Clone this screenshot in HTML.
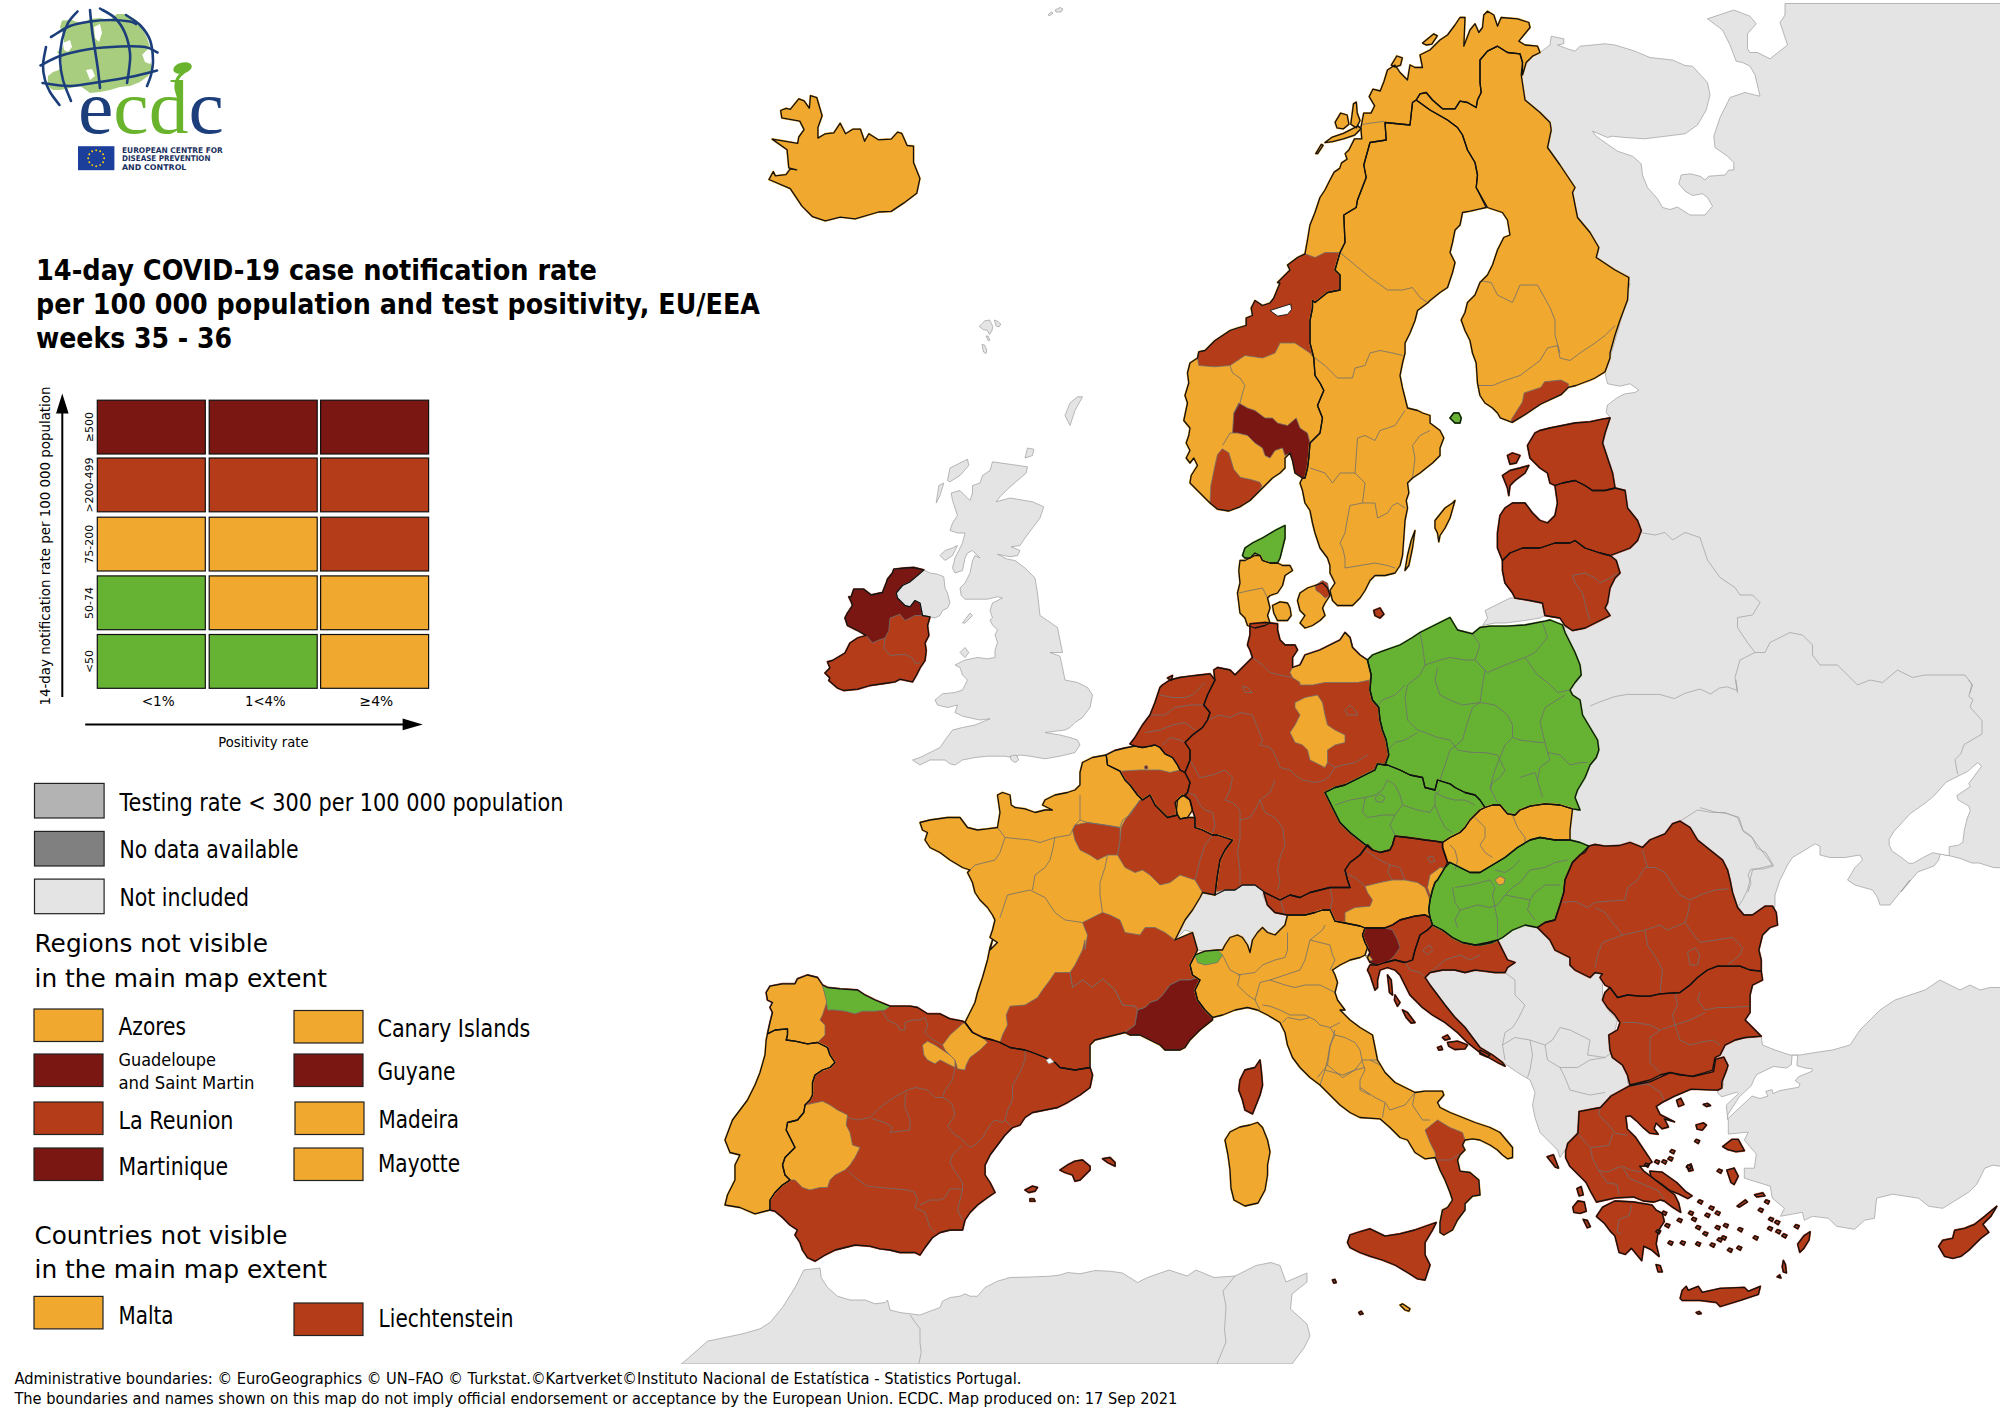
<!DOCTYPE html>
<html><head><meta charset="utf-8"><title>14-day COVID-19 case notification rate</title>
<style>
html,body{margin:0;padding:0;background:#fff;}
svg{display:block;}
.g{fill:#e4e4e4;stroke:#9c9c9c;stroke-width:0.7}
.w{fill:#fff;stroke:#9c9c9c;stroke-width:0.7}
.gl{fill:none;stroke:#9c9c9c;stroke-width:0.7}
.c{stroke-width:2.0;stroke-linejoin:round}
.s{stroke:#6e6e6e;stroke-width:0.8}
.l{fill:none;stroke:#6e6e6e;stroke-width:0.8}
.h{fill:#fff;stroke:#111;stroke-width:0.9}
.o{fill:none;stroke:#111;stroke-width:1.3;stroke-linejoin:round}
</style></head>
<body>
<svg width="2000" height="1412" viewBox="0 0 2000 1412" style="font-family:'DejaVu Sans','Liberation Sans',sans-serif">
<rect width="2000" height="1412" fill="#fff"/>
<g id="map">
<polygon class="g" points="1521.2,75 1526.2,62.5 1532.5,56.2 1540,52.5 1550,45 1551.2,36.2 1563.8,38.8 1563.8,43.8 1557.5,45 1567.5,48.8 1575,51.2 1580,46.2 1605,43.8 1615,45 1635,51.2 1650,57.5 1672.5,60 1685,65.5 1692.5,66.2 1707.5,82.5 1710,95 1706.2,110 1697.5,125 1685,133.8 1645,138.8 1625,137.5 1612.5,136.2 1607.5,137.5 1592.5,131.2 1596.2,136.2 1605,142.5 1617.5,151.2 1632.5,156.2 1641.2,163.8 1642.5,175 1647.5,187.5 1657.5,198.8 1662.5,207.5 1670,209.5 1677.5,207 1690,215 1705,215 1712.5,206.2 1707.5,197.5 1702.5,193.8 1692.5,195.5 1685,191.2 1678.8,183.8 1681.2,175 1690,173.8 1700,176.2 1705,180 1708.8,176.2 1725,175 1728.8,170 1733.8,170 1733.8,162.5 1727.5,156.2 1715,147.5 1713.8,136.2 1720,117.5 1727.5,102.5 1730,97.5 1745,92.5 1760,96.2 1755,75 1750,66.2 1742.5,62.5 1736.2,61.2 1730,45 1722.5,30 1707.5,18.8 1733.8,10 1750,16.2 1756.2,23.8 1747.5,33.8 1747.5,48.8 1750,52.5 1757.5,52.5 1770,58.8 1787.5,45 1780,22.5 1785,15 1785,3.5 2005,3.5 2005,867.7 1994,867.7 1979,863 1971.8,863 1961,858.7 1949,855.6 1940,854 1938.7,860 1934,866 1917.7,872 1901,892 1910,880 1900,892.5 1890,905 1880,905 1877.5,897.5 1872.5,890 1855,885 1847.5,880 1855,867.5 1862.5,860 1860,855 1845,857.5 1830,857.5 1820,855 1820,846.2 1815,843.8 1805,850 1792.5,857.5 1787.5,865 1780,880 1775,895 1775,905 1773.8,912.5 1750,920 1700,900 1560,860 1520,820 1560,780 1570,700 1555,660 1560,630 1590,615 1600,600 1620,530 1600,440 1610,417.5 1606.2,412.5 1607.5,405 1617.5,397.5 1625,393.8 1635,392.5 1638.8,390 1630,383.8 1620,386.2 1607.5,383.8 1605,372.5 1595,377.5 1605,371.8 1610,358 1615,340.5 1620,323 1625,305.5 1627.5,293 1630,283 1610,353 1615,335 1620,320 1627.5,300 1628.8,277.5 1615,270 1596.2,257.5 1598.8,247.5 1590,232.5 1577.5,217.5 1572.5,192.5 1575,187.5 1560,165 1547.5,147.5 1551.2,130 1550,122.5 1540,112.5 1525,100"/>
<polygon class="g" points="1485,610.5 1495,605.5 1505,600.5 1510,598 1515,598 1530,600.5 1542.5,603 1545,615.5 1540,618 1525,620.5 1505,623 1495,623 1482.5,625.5 1487.5,618"/>
<polygon class="g" points="1761.2,1036.2 1762.5,1045 1775,1050 1790,1055 1800,1055 1815,1052.5 1832.5,1050 1850,1045 1860,1030 1870,1020 1880,1010 1895,1000 1910,995 1925,990 1940,980 1950,985 1960,990 1970,985 1980,990 1990,987.5 2000,987.5 2005,987.5 2005,1166.2 2000,1166.2 1992.8,1165.2 1984.8,1168.2 1976.8,1184.2 1968.7,1192.2 1952.7,1202.2 1942.7,1208.3 1928.7,1206.3 1918.6,1198.2 1892.6,1194.2 1876.6,1198.2 1874.5,1218.3 1864.5,1220.3 1854.5,1229.3 1836.5,1226.3 1828.5,1218.3 1812.4,1216.3 1804.4,1220.3 1802.4,1212.3 1780.4,1216.3 1784.4,1208.3 1772.3,1198.2 1770.3,1186.2 1744.3,1178.2 1744.3,1168.2 1754.3,1168.2 1756.3,1154.1 1744.3,1140.1 1748.3,1132.1 1728.3,1134.1 1728.3,1120.1 1727.2,1114.5 1726.4,1104.9 1738.4,1093.7 1736.8,1092.1 1721.6,1096.9 1717.6,1092.9 1717.5,1090 1723.8,1085 1722.5,1077.5 1727.5,1070 1727.5,1062.5 1715,1057.5 1720,1055 1722.5,1050 1725,1045 1735,1040 1745,1037.5"/>
<polygon class="g" points="1425,972.5 1430,972.5 1442.5,970 1455,970 1465,972.5 1475,970 1485,971.2 1495,972.5 1505,972.5 1507.5,967.5 1515,962.5 1507.5,960 1502.5,950 1497.5,940 1502.5,937.5 1512.5,930 1525,925 1540,922.5 1550,930 1560,940 1570,950 1575,960 1580,970 1590,972.5 1600,972.5 1605,977.5 1602.5,985 1602.5,1000 1610,1012.5 1617.5,1020 1615,1030 1610,1037.5 1615,1050 1625,1060 1627.5,1070 1627.5,1082.5 1630,1086.2 1625,1090 1610,1097.5 1600,1107.5 1587.5,1110 1580,1115 1577.5,1130 1575,1140 1565,1150 1560,1157.5 1557.5,1150 1550,1142.5 1540,1132.5 1535,1117.5 1532.5,1105 1535,1092.5 1530,1080 1517.5,1072.5 1505,1063.8 1502.5,1062.5 1492.5,1055 1480,1047.5 1472.5,1037.5 1465,1027.5 1455,1017.5 1445,1005 1437.5,995 1430,985 1425,977.5"/>
<polyline class="gl" points="1505,972.5 1515,980 1515,995 1525,1005 1517.5,1020 1512.5,1027.5 1505,1032.5 1502.5,1045 1505,1060"/>
<polyline class="gl" points="1502.5,1045 1515,1037.5 1530,1040 1545,1045 1552.5,1040 1560,1027.5 1570,1030 1580,1035 1590,1040 1587.5,1055 1605,1057.5 1615,1050"/>
<polyline class="gl" points="1545,1045 1547.5,1060 1560,1067.5 1565,1077.5 1570,1090 1590,1095 1605,1092.5"/>
<polyline class="gl" points="1530,1040 1532.5,1055 1530,1070 1527.5,1077.5"/>
<polyline class="gl" points="1560,1067.5 1577.5,1067.5 1590,1060 1605,1057.5"/>
<polyline class="gl" points="1640,532.5 1655,535 1665,532.5 1672.5,540 1685,532.5 1700,537.5 1707.5,560 1720,577.5 1735,587.5 1740,595 1752.5,595 1760,602.5 1752.5,615 1737.5,617.5 1737.5,627.5 1747.5,642.5 1755,652.5 1740,660 1735,677.5 1737.5,693"/>
<polyline class="gl" points="1755,652.5 1765,652.5 1770,642.5 1790,632.5 1802.5,635 1812.5,645 1812.5,655 1820,665 1837.5,665 1850,677.5 1857.5,685 1870,680 1882.5,682.5 1897.5,670 1912.5,677.5 1925,675 1945,675 1965,675 1972.5,685 1970,693"/>
<polyline class="gl" points="1590,706 1600,701.8 1614.9,696.5 1627.6,694.4 1659.5,694.4 1674.4,698.6 1685,693.3 1700,689 1710.5,694 1719.5,688 1727,686.8 1737.5,690.5 1736,680"/>
<polyline class="gl" points="1968.8,680 1971.8,684.5 1968.8,696.5 1973,699.5 1970,707 1982,720.5 1982,734 1964,744.6 1961,753.6 1955,759.6 1956.8,770 1958,774.6"/>
<polyline class="gl" points="1700,807.6 1715,812 1727,813.6 1739,817.4 1743.5,831.7 1752.5,837.7 1757,848 1766,852.7 1773.6,866 1763,869 1751,869 1748,875 1751,882.7 1748,892"/>
<polyline class="gl" points="1680,821.2 1697.5,810 1712.5,812.5 1725,812.5 1737.5,817.5 1742.5,830 1750,835 1757.5,845 1765,855 1772.5,865 1762.5,867.5 1752.5,870 1750,880 1747.5,890 1742.5,900 1737.5,907.5"/>
<polygon fill="#f0a82f" stroke="#f0a82f" class="c" points="772.2,139.1 797.7,143.4 798.8,137 804.1,129.6 799.8,121.1 781.8,117.9 780.7,110.5 786,108.3 790.3,109.4 798.8,98.8 804.1,100.9 809.4,108.3 810.5,95.6 816.8,97.7 822.1,115.8 817.9,127.5 817.9,138.1 825.3,133.8 833.8,132.8 840.2,123.2 845.5,133.8 852.9,129.2 860.4,129.2 864.6,141.3 868.9,133.8 878.4,139.8 891.2,139.1 897.6,132.1 901.8,133.4 907.1,145.5 913.5,146.1 913.5,162.5 919.9,178.4 916.7,193.3 903.9,202.9 891.2,211.4 878.4,212 855.1,218.8 840.2,217.1 825.3,220.9 812.6,216.7 802,206.1 790.3,188.6 769,179.5 773.3,171.6 775.4,175.9 786,174.6 790.3,168.9 796.7,169.9 788.8,167.8 787.1,149.8"/>
<polygon fill="#f0a82f" stroke="#f0a82f" class="c" points="1277.5,282.5 1290,270 1287.5,265 1297.5,257.5 1305,253.8 1307.5,240 1310,225 1315,212.5 1320,197.5 1325,190 1330,180 1334.2,172.1 1339.7,168.4 1341.6,162.9 1347.1,159.2 1345.2,153.6 1348.9,150 1354.5,138.9 1361.8,138.9 1360.9,127.9 1363.7,113.1 1371,113.1 1374.7,105.8 1369.2,96.6 1372.9,89.2 1380.2,91 1383.9,81.8 1387.5,70 1395,65 1400,72.5 1407.5,80 1410,65 1415,67.5 1422.5,67.5 1420,55 1430,50 1440,40 1447.5,35 1455,25 1460,17.5 1465,17.5 1463.8,46.2 1470,30 1475,23.8 1478.8,32.5 1482.5,27.5 1483.8,15 1487.5,11.2 1493.8,15 1497.5,26.2 1501.2,17.5 1517.5,18.8 1528.8,22.5 1530,27.5 1518.8,41.2 1525,45 1537.5,46.2 1540,52.5 1532.5,56.2 1526.2,62.5 1522.5,75 1522.5,62.5 1520,53.8 1507.5,52.5 1497.5,46.2 1487.5,51.2 1480,60 1480,82.5 1481.2,92.5 1477.5,100 1476.2,107.5 1467.5,102.5 1460,101.2 1455,108.8 1442.5,108.8 1432.5,100 1426.2,92.5 1420,93.8 1416.2,100 1412.5,102.5 1410,125 1385,122.5 1386.2,140 1370,142.5 1363.8,165 1366.2,177.5 1357.5,200 1356.2,207.5 1343.8,215 1345,242.5 1340,252.5 1335,270 1340,275 1340,290 1327.5,292.5 1315,302.5 1312.5,300.5 1312.5,308 1310,320.5 1310,343 1313.8,358 1315,375.5 1320,383 1323.8,390.5 1317.5,405.5 1322.5,418 1320,433 1310,443 1308.8,458 1307.5,468 1305,478 1302.5,478 1295,473 1292.5,460.5 1290,453 1285,458 1285,468 1280,473 1272.5,478 1265,485.5 1257.5,493 1250,500.5 1240,506.8 1228.8,511 1217.5,509.2 1210,503 1202.5,495.5 1195,488 1190,483 1191.2,475.5 1197.5,465.5 1193.8,458 1190,463 1186.2,458 1190,450.5 1186.2,443 1188.8,435.5 1190,428 1183.8,420.5 1187.5,403 1185,395.5 1188.8,383 1187.5,373 1190,363 1197.5,358 1198.8,351.8 1205,350.5 1210,345.5 1215,340.5 1222.5,335.5 1230,330.5 1237.5,328 1246.2,325.5 1246.2,318 1252.5,315.5 1251.2,308 1255,300.5 1262.5,305.5 1270,303 1273.8,298 1280,283"/>
<polygon fill="#b43c19" class="s" points="1305,253.8 1315,257.5 1325,252.5 1341.2,252.5 1335,270 1340,275 1340,290 1327.5,292.5 1315,302.5 1312.5,300.5 1312.5,308 1310,320.5 1310,343 1313.8,358 1310,353 1295,343 1280,343 1275,353 1262.5,358 1245,355.5 1230,365.5 1215,366.8 1198.8,365.5 1197.5,358 1198.8,351.8 1205,350.5 1210,345.5 1215,340.5 1222.5,335.5 1230,330.5 1237.5,328 1246.2,325.5 1246.2,318 1252.5,315.5 1251.2,308 1255,300.5 1262.5,305.5 1270,303 1273.8,298 1280,283 1277.5,282.5 1290,270 1287.5,265 1297.5,257.5"/>
<polygon fill="#7b1712" class="s" points="1232.5,433 1233.8,413 1238.8,403 1247.5,408 1255,410.5 1265,418 1272.5,418 1277.5,423 1287.5,425.5 1296.2,418 1300,428 1307.5,433 1310,443 1308.8,458 1307.5,468 1305,478 1302.5,478 1295,473 1292.5,460.5 1290,453 1285,455.5 1282.5,448 1275,450.5 1270,458 1265,455.5 1262.5,448 1255,443 1247.5,435.5 1237.5,433"/>
<polygon fill="#b43c19" class="s" points="1210,503 1210.9,485.5 1214.2,469.2 1217.5,454.5 1222.3,448.8 1228.9,452.9 1233.7,469.2 1240.3,477.3 1251.7,479.8 1259.8,482.2 1262,486 1257.5,493 1250,500.5 1240,506.8 1228.8,511 1217.5,509.2"/>
<polygon fill="#f0a82f" stroke="#f0a82f" class="c" points="1315.8,153.6 1321.3,144.4 1323.1,145.4 1317.6,153.6"/>
<polygon fill="#f0a82f" stroke="#f0a82f" class="c" points="1325,142.6 1332.4,137.1 1343.4,133.4 1350.8,129.7 1358.1,126 1360.9,128.8 1354.5,135.2 1343.4,138.9 1332.4,141.7"/>
<polygon fill="#f0a82f" stroke="#f0a82f" class="c" points="1335.1,122.3 1340.6,113.1 1347.1,115 1348.9,124.2 1343.4,128.8 1337,127.9"/>
<polygon fill="#f0a82f" stroke="#f0a82f" class="c" points="1350.8,124.2 1353.5,103.9 1356.3,102.1 1357.2,113.1 1360,120.5 1356.3,127.9"/>
<polygon fill="#f0a82f" stroke="#f0a82f" class="c" points="1391.3,65.2 1396.8,56 1402.3,57.9 1400.5,65.2 1395,67.1"/>
<polygon fill="#f0a82f" stroke="#f0a82f" class="c" points="1422.6,43.1 1433.6,33.9 1437.3,35.8 1431.8,44.1 1426.3,45"/>
<polygon fill="#f0a82f" stroke="#f0a82f" class="c" points="1416.2,100 1430,110 1447.5,120 1457.5,127.5 1462.5,135 1467.5,150 1475,162.5 1477.5,175 1476.2,187.5 1486.2,207.5 1480,208.8 1470,211.2 1462.5,212.5 1460,225 1455,230 1452.5,242.5 1450,252.5 1455,262.5 1452.5,272.5 1447.5,287.5 1440,292.5 1430,300.5 1427.5,303 1417.5,310.5 1415,320.5 1410,333 1405,343 1405,353 1402.5,363 1400,375.5 1402.5,388 1407.5,408 1417.5,410.5 1422.5,413 1430,415.5 1430,423 1440,430.5 1443.8,438 1440,448 1440,455.5 1432.5,463 1426.2,468 1420,473 1412.5,478 1407.5,483 1408.8,493 1406.2,500.5 1407.5,508 1405,520.5 1403.8,538 1402.5,555.5 1400,565.5 1395,573 1385,575.5 1375,575.5 1370,580.5 1365,590.5 1360,598 1352.5,605.5 1342.5,605.5 1337.5,605.5 1332.5,600.5 1330,590.5 1335,583 1330,573 1330,565.5 1327.5,558 1320,548 1315,533 1312.5,523 1310,510.5 1305,503 1302.5,490.5 1300,483 1302.5,478 1305,478 1307.5,468 1308.8,458 1310,443 1320,433 1322.5,418 1317.5,405.5 1323.8,390.5 1320,383 1315,375.5 1313.8,358 1310,343 1310,320.5 1312.5,308 1312.5,300.5 1315,302.5 1327.5,292.5 1340,290 1340,275 1335,270 1340,252.5 1345,242.5 1343.8,215 1356.2,207.5 1357.5,200 1366.2,177.5 1363.8,165 1370,142.5 1386.2,140 1385,122.5 1410,125 1412.5,102.5"/>
<polygon fill="#f0a82f" stroke="#f0a82f" class="c" points="1435,520.5 1445,508 1452.5,503 1455,500.5 1450,518 1445,528 1440,535.5 1438.8,541.8 1437.5,533 1435,528"/>
<polygon fill="#f0a82f" stroke="#f0a82f" class="c" points="1405,570.5 1407.5,555.5 1411.2,540.5 1415,530.5 1412.5,548 1408.8,565.5"/>
<polygon fill="#f0a82f" stroke="#f0a82f" class="c" points="1416.2,100 1420,93.8 1426.2,92.5 1432.5,100 1442.5,108.8 1455,108.8 1460,101.2 1467.5,102.5 1476.2,107.5 1477.5,100 1481.2,92.5 1480,82.5 1480,60 1487.5,51.2 1497.5,46.2 1507.5,52.5 1520,53.8 1522.5,62.5 1521.2,75 1525,100 1540,112.5 1550,122.5 1551.2,130 1547.5,147.5 1560,165 1575,187.5 1572.5,192.5 1577.5,217.5 1590,232.5 1598.8,247.5 1596.2,257.5 1615,270 1628.8,277.5 1627.5,300 1620,320 1615,335 1610,353 1610,358 1605,371.8 1595,378 1590.5,380 1575.8,385.5 1568.4,387.4 1561,394.7 1540.8,404 1526,414 1512.2,422.4 1500.3,417.8 1497.5,413 1492.5,408 1485,403 1480,395.5 1477.5,383 1476.2,363 1472.5,353 1470,340.5 1465,330.5 1461.2,320 1465,312.5 1467.5,302.5 1475,295 1480,282.5 1487.5,275 1492.5,265 1497.5,250 1503.8,237.5 1510,235 1507.5,220 1502.5,212.5 1487.5,207.5 1476.2,187.5 1477.5,175 1475,162.5 1467.5,150 1462.5,135 1457.5,127.5 1447.5,120 1430,110"/>
<polygon fill="#b43c19" class="s" points="1511.3,419.6 1522.4,402.1 1524.2,392.9 1540.8,387.4 1544.5,381.8 1561,380 1568.4,383.7 1568.4,387.4 1561,394.7 1540.8,404 1526,414 1512.2,422.4"/>
<polygon fill="#66b233" stroke="#66b233" class="c" points="1450,418 1453.8,413 1458.8,413 1461.2,418 1460,423 1455,423"/>
<polygon fill="#b43c19" stroke="#b43c19" class="c" points="1527.5,445.5 1535,433 1540,430.5 1550,428 1562.5,425.5 1575,423 1590,421.8 1602.5,419.2 1610,418 1605,433 1602.5,443 1607.5,458 1612.5,473 1615,488 1605,490.5 1592.5,490.5 1585,485.5 1575,480.5 1562.5,483 1555,485.5 1550,483 1547.5,473 1540,468 1535,463 1530,458"/>
<polygon fill="#b43c19" stroke="#b43c19" class="c" points="1502.5,475.5 1510,470.5 1520,468 1528.8,465.5 1525,473 1515,480.5 1510,485.5 1508.8,495.5 1507.5,488"/>
<polygon fill="#b43c19" stroke="#b43c19" class="c" points="1507.5,455.5 1512.5,453 1520,455.5 1516.2,463 1510,464.2"/>
<polygon fill="#b43c19" stroke="#b43c19" class="c" points="1555,485.5 1562.5,483 1575,480.5 1585,485.5 1592.5,490.5 1605,490.5 1615,488 1625,490.5 1627.5,508 1637.5,520.5 1641.2,530.5 1637.5,540.5 1630,548 1610,555.5 1600,553 1585,548 1575,540.5 1570,543 1555,543 1540,548 1522.5,548 1510,553 1502.5,560.5 1497.5,548 1497.5,533 1500,515.5 1505,508 1512.5,503 1525,503 1532.5,513 1540,520.5 1547.5,523 1555,515.5 1557.5,503"/>
<polygon fill="#b43c19" stroke="#b43c19" class="c" points="1502.5,560.5 1510,553 1522.5,548 1540,548 1555,543 1570,543 1575,540.5 1585,548 1600,553 1610,555.5 1616.2,560.5 1620,573 1615,578 1610,588 1607.5,603 1605,608 1610,615.5 1595,623 1585,628 1572.5,630.5 1565,625.5 1560,618 1545,615.5 1542.5,603 1530,600.5 1515,598 1512.5,593 1505,583 1502.5,570.5"/>
<polygon fill="#66b233" stroke="#66b233" class="c" points="1242.5,555.5 1245,548 1252.5,543 1262.5,538 1275,530.5 1285,525.5 1285,538 1282.5,548 1280,558 1277.5,563 1270,563 1262.5,560.5 1260,555.5 1255,553 1250,558 1245,558"/>
<polygon fill="#f0a82f" stroke="#f0a82f" class="c" points="1240,560.5 1245,560.5 1250,558 1255,555.5 1260,555.5 1262.5,560.5 1270,563 1277.5,563 1282.5,565.5 1290,565.5 1292.5,570.5 1285,575.5 1282.5,585.5 1277.5,593 1270,595.5 1267.5,598 1270,608 1267.5,615.5 1270,623 1265,625.5 1255,628 1247.5,625.5 1245,618 1240,613 1238.8,603 1237.5,593 1240,583 1238.8,570.5"/>
<polygon fill="#f0a82f" stroke="#f0a82f" class="c" points="1272.5,605.5 1280,601.8 1287.5,603 1290,608 1291.2,615.5 1287.5,620.5 1277.5,620.5 1273.8,613"/>
<polygon fill="#f0a82f" stroke="#f0a82f" class="c" points="1300,593 1307.5,588 1315,585.5 1322.5,583 1327.5,588 1330,595.5 1325,603 1322.5,608 1325,615.5 1320,620.5 1312.5,625.5 1305,628 1300,623 1305,615.5 1300,610.5 1297.5,600.5"/>
<polygon fill="#b43c19" class="s" points="1315,585.5 1322.5,580.5 1327.5,583 1330,595.5 1325,598 1320,593 1316.2,590.5"/>
<polygon fill="#b43c19" stroke="#b43c19" class="c" points="1373.8,610.5 1380,608 1383.8,614.2 1380,618 1375,615.5"/>
<polygon fill="#b43c19" stroke="#b43c19" class="c" points="923.8,570 913.8,567.5 905,568 893.8,569.2 892.5,573 887.5,579.2 886.2,583 882.5,592.5 871.2,595 863.8,589.2 853.8,589.2 851.2,596.8 848.8,596.8 851.2,601.8 852.5,605.5 847.5,613 845,618 847.5,625.5 857.5,630.5 866.2,635.5 857.5,638 850,643 845,653 832.5,660.5 827.5,661.8 830,668 825,673 830,678 828.8,680.5 837.5,688 843.8,690.5 857.5,689.2 870,685.5 887.5,683 895,681.8 900,679.2 912.5,681.8 916.2,675.5 920,668 925,660.5 926.2,650.5 925,643 928.8,635.5 927.5,625.5 930,616.8 922.5,615.5 920,603 915,600.5 910,606.8 905,605.5 897.5,598 896.2,593 902.5,585.5 910,581.8 917.5,575.5"/>
<polygon fill="#7b1712" class="s" points="923.8,570 913.8,567.5 905,568 893.8,569.2 892.5,573 887.5,579.2 886.2,583 882.5,592.5 871.2,595 863.8,589.2 853.8,589.2 851.2,596.8 848.8,596.8 851.2,601.8 852.5,605.5 847.5,613 845,618 847.5,625.5 857.5,630.5 866.2,635.5 872.5,643 877.5,640.5 885,638 888.8,630.5 890,618 900,614.2 905,620.5 910,618 915,615.5 922.5,615.5 920,603 915,600.5 910,606.8 905,605.5 897.5,598 896.2,593 902.5,585.5 910,581.8 917.5,575.5"/>
<polygon class="g" points="923.8,570 930,573 937.5,574.2 943.8,576.8 945,588 947.5,593 950,603 947.5,608 942.5,610.5 940,615.5 935,618 930,616.8 922.5,615.5 920,603 915,600.5 910,606.8 905,605.5 897.5,598 896.2,593 902.5,585.5 910,581.8 917.5,575.5"/>
<polygon class="g" points="992.5,461.8 1027.5,466.8 1026.2,473 1017.5,480.5 1007.5,489.2 1000,496.8 996.2,501.8 1010,498 1032.5,501.8 1043.8,506.8 1040,518 1032.5,528 1025,538 1020,545.5 1011.2,546.8 1020,550.5 1017.5,555.5 1010,556.8 1003.8,555.5 997.5,554.2 1007.5,559.2 1015,560.5 1025,568 1035,578 1037.5,593 1040,615.5 1047.5,620.5 1057.5,627.5 1060,640 1062.5,652.5 1050,652.5 1060,656.2 1062.5,667.5 1065,680 1077.5,682.5 1087.5,687.5 1092.5,695 1090,707.5 1082.5,717.5 1075,722.5 1070,727.5 1065,730 1045,732.5 1060,735 1070,737.5 1077.5,740 1080,745 1075,752.5 1060,756.2 1045,758.8 1030,756.2 1020,755 1012.5,757.5 1005,756.2 987.5,756.2 975,757.5 962.5,760 955,765 950,763.8 945,760 930,760 920,765 912.5,760 920,757.5 930,752.5 940,747.5 945,740 952.5,730 962.5,727.5 975,725 990,718.8 980,720 962.5,716.2 955,712.5 957.5,705 947.5,707.5 937.5,705 935,700 942.5,693.8 955,692.5 962.5,690 967.5,680 962.5,675 960,667.5 955,665 965,660 977.5,657.5 987.5,658.8 995,657.5 995,650 997.5,642.5 995,635 997.5,630 992.5,625 990,620 992.5,618 990,610.5 992.5,603 1002.5,598 997.5,596.8 987.5,599.2 975,599.2 965,599.2 961.2,595.5 960,588 965,583 970,573 972.5,560.5 975,555.5 980,558 975,553 972.5,550.5 967.5,553 965,558 962.5,570.5 955,573 952.5,568 955,558 960,548 962.5,543 965,533 957.5,533 950,530.5 952.5,523 957.5,515.5 955,508 952.5,500.5 951.2,493 960,490.5 965,495.5 970,500.5 972.5,493 972.5,485.5 980,483 982.5,475.5 990,470.5"/>
<polygon class="g" points="947.5,480.5 950,468 967.5,459.2 968.8,465.5 960,475.5 950,481.8"/>
<polygon class="g" points="936.2,503 938.8,485.5 943.8,483 940,495.5"/>
<polygon class="g" points="940,555.5 945,550.5 952.5,548 957.5,545.5 952.5,555.5 945,560.5"/>
<polygon class="g" points="1025,458 1027.5,448 1033.8,449.2 1032.5,455.5"/>
<polygon class="g" points="1065,415.5 1070,403 1077.5,396.8 1082.5,396.8 1075,410.5 1070,425.5"/>
<polygon class="g" points="962.5,623 970,613 972.5,615.5 965,623"/>
<polygon class="g" points="960,652.5 965,647.5 968.8,652.5 965,657.5"/>
<polygon class="g" points="1010,756.2 1016.2,755 1018.8,760 1015,762.5 1011.2,760"/>
<polygon class="g" points="979.2,326.4 984.8,320.8 989.6,320 992.8,326.4 992,330.4 989.6,334.4 987.2,330.4 983.2,329.6"/>
<polygon class="g" points="994.4,320 997,321 1000.8,324 999,327 996,326"/>
<polygon class="g" points="986,336 988,336 990,340 988.5,341"/>
<polygon class="g" points="982,344.4 984.5,345 986.8,350 986,353.6 983.5,352"/>
<polygon class="g" points="1048,15 1051,12 1053,13 1050,15.5"/>
<polygon class="g" points="1055,10 1060,7.5 1063,9 1061,12 1056,12"/>
<polygon fill="#b43c19" stroke="#b43c19" class="c" points="1130,743.8 1135,737.5 1142.5,725 1150,715 1155,702.5 1157.5,695 1160,687.5 1162.5,685 1170,680 1180,677.5 1190,676.2 1200,675 1210,673.8 1215,680 1212.5,685 1207.5,695 1203.8,705 1210,712.5 1207.5,720 1202.5,727.5 1192.5,735 1185,742.5 1190,750 1190,760 1185,772.5 1180,770 1177.5,765 1172.5,757.5 1165,753.8 1160,747.5 1155,745 1150,746.2 1142.5,747.5 1135,746.2"/>
<polygon fill="#b43c19" stroke="#b43c19" class="c" points="1167.5,678 1172.5,675.5 1171.2,680.5"/>
<polygon fill="#b43c19" stroke="#b43c19" class="c" points="1106.2,755 1115,750.5 1125,748 1135,746.2 1142.5,747.5 1150,746.2 1155,745 1160,747.5 1165,753.8 1172.5,757.5 1177.5,765 1180,770 1185,772.5 1190,782.5 1187.5,792.5 1185,795 1180,797.5 1175,802.5 1177.5,815 1167.5,817.5 1155,805 1150,795 1142.5,800 1137.5,795 1130,785 1125,780 1120,771.2 1107.5,765"/>
<polygon fill="#f0a82f" class="s" points="1106.2,755 1115,750.5 1125,748 1135,746.2 1142.5,747.5 1150,746.2 1155,745 1160,747.5 1165,753.8 1172.5,757.5 1177.5,765 1180,770 1170,772.5 1160,770 1150,770 1140,770 1120,771.2 1107.5,765"/>
<polygon fill="#7b1712" class="s" points="1144.5,766.2 1147,765.5 1148,768.5 1145,769.2"/>
<polygon fill="#f0a82f" stroke="#f0a82f" class="c" points="1177.5,800 1182.5,795 1190,800 1192.5,810 1187.5,817.5 1180,818.8 1176.2,812.5"/>
<polygon fill="#b43c19" stroke="#b43c19" class="c" points="1250,623.8 1250,635 1247.5,645 1250,650 1252.5,657.5 1247.5,662.5 1240,670 1235,675 1230,670 1217.5,667.5 1213.8,670 1215,680 1212.5,685 1207.5,695 1203.8,705 1210,712.5 1207.5,720 1202.5,727.5 1192.5,735 1185,742.5 1190,750 1190,760 1185,772.5 1190,782.5 1187.5,792.5 1185,795 1190,800 1192.5,810 1195,817.5 1195,827.5 1202.5,830 1212.5,835 1217.5,835 1232.5,840 1225,850 1220,860 1217.5,875 1216.2,885 1215,895 1225,890 1235,890 1242.5,885 1255,885 1265,892.5 1275,897.5 1280,900 1290,895 1300,897.5 1310,892.5 1320,890 1330,887.5 1340,887.5 1350,887.5 1347.5,880 1345,870 1350,862.5 1360,855 1367.5,845 1372.5,850 1362.5,842.5 1350,832.5 1340,822.5 1335,812.5 1330,802.5 1325,792.5 1335,787.5 1345,785 1355,780 1365,775 1375,770 1377.5,763.8 1385,765 1388.8,755 1386.2,740 1382.5,730 1380,720 1378.8,707.5 1372.5,700 1370,690 1371.2,675 1367.5,660 1367.5,660 1360,655 1352.5,647.5 1350,637.5 1345,632.5 1340,640 1330,645 1320,650 1305,655 1300,665 1292.5,667.5 1292.5,657.5 1297.5,650 1295,645 1285,645 1280,640 1277.5,630 1277.5,623.8 1265,622.5"/>
<polygon fill="#f0a82f" class="s" points="1292.5,667.5 1300,665 1305,655 1320,650 1330,645 1340,640 1345,632.5 1350,637.5 1352.5,647.5 1360,655 1367.5,660 1367.5,660 1371.2,675 1370,680 1357.5,682.5 1345,682.5 1335,682.5 1325,682.5 1312.5,685 1300,685 1300,682.5 1292.5,677.5 1290,672.5"/>
<polygon fill="#f0a82f" class="s" points="1295,702.5 1305,697.5 1317.5,695 1322.5,702.5 1325,715 1327.5,725 1335,730 1345,735 1345,742.5 1335,745 1327.5,750 1327.5,762.5 1325,767.5 1320,765 1310,760 1307.5,750 1302.5,745 1295,742.5 1290,732.5 1295,725 1300,715 1295,707.5"/>
<polygon fill="#66b233" stroke="#66b233" class="c" points="1367.5,660 1372.5,655 1382.5,651.2 1400,645 1412.5,637.5 1420,632.5 1430,627.5 1440,622.5 1450,617.5 1457.5,630 1472.5,633.8 1480,627.5 1490,626.2 1507.5,626.2 1525,625 1545,621.2 1550,620 1562.5,625 1565,632.5 1570,642.5 1575,652.5 1580,665 1581.2,675 1575,682.5 1570,690 1572.5,695 1580,700 1582.5,715 1590,727.5 1597.5,740 1598.8,750 1596.2,757.5 1590,765 1585,777.5 1577.5,790 1575,797.5 1580,810 1572.5,808.8 1560,805 1545,803.8 1530,806.2 1520,810 1515,815 1507.5,813.8 1500,805 1492.5,805 1485,807.5 1480,800 1475,795 1465,792.5 1455,787.5 1450,783.8 1437.5,780 1435,790 1425,787.5 1422.5,777.5 1410,775 1400,770 1387.5,765 1385,765 1388.8,755 1386.2,740 1382.5,730 1380,720 1378.8,707.5 1372.5,700 1370,690 1371.2,675"/>
<polygon fill="#66b233" stroke="#66b233" class="c" points="1325,792.5 1335,787.5 1345,785 1355,780 1365,775 1375,770 1377.5,763.8 1385,765 1387.5,765 1400,770 1410,775 1422.5,777.5 1425,787.5 1435,790 1437.5,780 1450,783.8 1455,787.5 1465,792.5 1475,795 1480,800 1485,807.5 1480,810 1475,815 1470,820 1465,827.5 1460,832.5 1450,837.5 1442.5,842.5 1435,841.2 1425,840 1417.5,838.8 1407.5,837.5 1395,836.2 1392.5,845 1390,850 1380,852.5 1372.5,850 1362.5,842.5 1350,832.5 1340,822.5 1335,812.5 1330,802.5"/>
<polygon fill="#f0a82f" stroke="#f0a82f" class="c" points="1485,807.5 1492.5,805 1500,805 1507.5,813.8 1515,815 1520,810 1530,806.2 1545,803.8 1560,805 1572.5,808.8 1571.2,820 1570,830 1570,840 1555,840 1540,837.5 1530,840 1517.5,847.5 1505,857.5 1492.5,865 1480,872.5 1470,872.5 1460,867.5 1450,862.5 1447.5,862.5 1445,855 1442.5,847.5 1442.5,842.5 1450,837.5 1460,832.5 1465,827.5 1470,820 1475,815 1480,810"/>
<polygon class="g" points="1202.5,892.5 1215,892.5 1225,890 1235,890 1242.5,885 1255,885 1265,892.5 1262.5,895 1267.5,905 1275,912.5 1287.5,915 1285,925 1280,930 1275,935 1267.5,932.5 1262.5,927.5 1257.5,932.5 1252.5,940 1250,952.5 1247.5,945 1242.5,937.5 1237.5,935 1230,937.5 1225,945 1222.5,950 1217.5,950 1205,951.2 1197.5,950 1192.5,932.5 1185,930 1175,940 1180,930 1185,920 1192.5,910 1200,897.5"/>
<polygon fill="#b43c19" stroke="#b43c19" class="c" points="1263.8,892.5 1275,897.5 1280,900 1290,895 1300,897.5 1310,892.5 1320,890 1330,887.5 1340,887.5 1350,887.5 1347.5,880 1345,870 1350,862.5 1360,855 1367.5,845 1372.5,850 1380,852.5 1390,850 1392.5,845 1395,836.2 1407.5,837.5 1417.5,838.8 1425,840 1435,841.2 1442.5,842.5 1442.5,847.5 1445,855 1447.5,862.5 1445,867.5 1437.5,880 1435,882.5 1432.5,890 1430,900 1428.8,910 1430,917.5 1425,915 1415,916.2 1400,920 1392.5,925 1385,928 1375,928 1365,928 1360,926 1345,923 1335,921.2 1330,910 1322.5,910 1315,912.5 1305,915 1295,915 1287.5,915 1275,912.5 1267.5,905"/>
<polygon fill="#f0a82f" class="s" points="1365,886.2 1380,882.5 1392.5,880 1405,880 1417.5,882.5 1425,887.5 1430,900 1428.8,910 1430,917.5 1425,915 1415,916.2 1400,920 1392.5,925 1385,928 1375,928 1365,928 1360,926 1345,923 1345,912.5 1355,907.5 1370,906.2 1372.5,900 1367.5,892.5"/>
<polygon fill="#f0a82f" class="s" points="1430,875 1440,867.5 1442.5,867.5 1445,875 1440,882.5 1437.5,895 1430,895 1427.5,887.5"/>
<polygon fill="#b43c19" stroke="#b43c19" class="c" points="1365,928 1375,928 1385,928 1392.5,925 1400,920 1415,916.2 1425,915 1430,917.5 1432.5,925 1427.5,930 1420,935 1417.5,942.5 1415,950 1412.5,960 1405,962.5 1395,960 1385,962.5 1377.5,965 1370,962.5 1367.5,957.5 1370,952.5 1367.5,947.5 1365,942.5 1362.5,935"/>
<polygon fill="#7b1712" class="s" points="1365,928 1375,928 1385,928 1392.5,930 1397.5,940 1400,947.5 1395,955 1390,960 1385,962.5 1377.5,965 1370,962.5 1367.5,957.5 1370,952.5 1367.5,947.5 1365,942.5 1362.5,935"/>
<polygon fill="#b43c19" stroke="#b43c19" class="c" points="1377.5,965 1385,962.5 1395,960 1405,962.5 1412.5,960 1415,950 1417.5,942.5 1420,935 1427.5,930 1432.5,925 1442.5,930 1452.5,937.5 1462.5,942.5 1475,945 1487.5,942.5 1497.5,940 1502.5,950 1507.5,960 1515,962.5 1507.5,967.5 1505,972.5 1495,972.5 1485,971.2 1475,970 1465,972.5 1455,970 1442.5,970 1430,972.5 1425,977.5 1430,985 1437.5,995 1445,1005 1455,1017.5 1465,1027.5 1472.5,1037.5 1480,1047.5 1492.5,1055 1502.5,1062.5 1505,1066.2 1497.5,1062.5 1480,1052.5 1467.5,1042.5 1457.5,1032.5 1445,1022.5 1432.5,1015 1422.5,1007.5 1415,1000 1410,995 1405,985 1400,975 1395,970 1387.5,967.5 1380,970 1377.5,980 1377.5,987.5 1375,990 1372.5,982.5 1370,975 1367.5,970 1370,965"/>
<polygon fill="#b43c19" stroke="#b43c19" class="c" points="1387.5,975 1391.2,980 1392.5,995 1389.5,992.5"/>
<polygon fill="#b43c19" stroke="#b43c19" class="c" points="1402.5,1010 1407.5,1012.5 1415,1022.5 1411.2,1023 1406.2,1017.5"/>
<polygon fill="#b43c19" stroke="#b43c19" class="c" points="1395,995 1400,1002.5 1397.5,1006.2 1394.5,1000"/>
<polygon fill="#b43c19" stroke="#b43c19" class="c" points="1437.5,1047.5 1441.2,1046.2 1442.5,1049.5 1438.8,1050"/>
<polygon fill="#b43c19" stroke="#b43c19" class="c" points="1447.5,1042.5 1457.5,1041.2 1467.5,1045 1465,1048.8 1455,1049.5 1448.8,1046.2"/>
<polygon fill="#b43c19" stroke="#b43c19" class="c" points="1442.5,1037.5 1447.5,1035 1450,1038.8 1445,1040"/>
<polygon fill="#b43c19" stroke="#b43c19" class="c" points="1480,1050 1490,1055 1487.5,1057 1480,1053.8"/>
<polygon fill="#66b233" stroke="#66b233" class="c" points="1437.5,880 1445,867.5 1450,862.5 1460,867.5 1470,872.5 1480,872.5 1492.5,865 1505,857.5 1517.5,847.5 1530,840 1540,837.5 1555,840 1570,840 1580,842.5 1588.8,846.2 1572.5,862.5 1565,880 1563.8,892.5 1560,905 1555,920 1545,922.5 1537.5,927.5 1525,925 1512.5,930 1502.5,937.5 1492.5,942.5 1480,945 1475,945 1462.5,942.5 1452.5,937.5 1442.5,930 1432.5,925 1430,917.5 1428.8,910 1430,900 1432.5,890 1435,882.5"/>
<polygon fill="#f0a82f" class="s" points="1495,880 1500,876.2 1505,878.8 1503.8,883.8 1498.8,885"/>
<polygon fill="#f0a82f" stroke="#f0a82f" class="c" points="1106.2,755 1107.5,765 1120,771.2 1125,780 1130,785 1137.5,795 1142.5,800 1150,795 1155,805 1167.5,817.5 1177.5,815 1180,818.8 1187.5,817.5 1195,817.5 1195,827.5 1202.5,830 1212.5,835 1217.5,835 1232.5,840 1225,850 1220,860 1217.5,875 1216.2,885 1215,895 1202.5,892.5 1200,897.5 1192.5,910 1185,920 1180,930 1175,940 1192.5,932.5 1197.5,950 1195,955 1190,965 1192.5,975 1200,980 1195,990 1197.5,1000 1205,1010 1212.5,1017.5 1212.5,1020 1200,1030 1190,1040 1185,1047.5 1180,1050 1175,1050 1165,1050 1160,1045 1150,1040 1140,1035 1130,1035 1125,1032.5 1115,1035 1105,1037.5 1095,1040 1090,1045 1090,1055 1090,1067.5 1075,1070 1060,1067.5 1055,1062.5 1045,1057.5 1032.5,1052.5 1025,1050 1010,1047.5 1000,1042.5 992.5,1040 982.5,1037.5 972.5,1032.5 965,1022.5 970,1012.5 975,1002.5 977.5,992.5 982.5,977.5 987.5,960 990,947.5 992.5,940 990,950 997.5,942.5 990,937.5 992.5,930 995,920 992.5,915 987.5,907.5 980,900 975,892.5 972.5,882.5 967.5,872.5 970,870 962.5,867.5 950,860 940,852.5 930,847.5 925,840 927.5,832.5 922.5,830 920,822.5 930,820 947.5,817.5 960,817.5 967.5,827.5 977.5,830 987.5,828.8 997.5,827.5 1000,812.5 997.5,795 1002.5,792.5 1010,795 1011.2,805 1015,807.5 1025,808.8 1035,812.5 1045,810 1052.5,810 1042.5,805 1045,800 1055,795 1067.5,792.5 1075,790 1080,785 1080,772.5 1082.5,762.5 1092.5,757.5"/>
<polygon fill="#b43c19" class="s" points="1125,820 1140,800 1142.5,800 1150,795 1155,805 1167.5,817.5 1177.5,815 1180,818.8 1187.5,817.5 1195,817.5 1195,827.5 1202.5,830 1212.5,835 1217.5,835 1232.5,840 1225,850 1220,860 1217.5,875 1216.2,885 1215,895 1202.5,892.5 1195,880 1180,875 1170,882.5 1160,885 1150,875 1142.5,870 1135,872.5 1125,867.5 1117.5,855 1120,840 1121.2,827.5"/>
<polygon fill="#b43c19" class="s" points="1075,825 1087.5,822.5 1105,825 1120,827.5 1120,840 1117.5,855 1107.5,855 1097.5,860 1090,855 1080,850 1075,840 1072.5,830"/>
<polygon fill="#b43c19" class="s" points="1082.5,922.5 1092.5,917.5 1102.5,912.5 1110,915 1120,920 1125,932.5 1140,935 1145,927.5 1155,927.5 1165,932.5 1175,940 1192.5,932.5 1197.5,950 1195,955 1190,965 1192.5,975 1200,980 1197.5,977.5 1190,980 1180,980 1170,985 1162.5,995 1157.5,1000 1150,1002.5 1145,1007.5 1137.5,1010 1135,1006.2 1122.5,1005 1115,990 1102.5,978.8 1092.5,987.5 1082.5,980 1072.5,987.5 1070,972.5 1075,965 1082.5,950 1085,940 1085,950 1087.5,935"/>
<polygon fill="#b43c19" class="s" points="1000,1042.5 1002.5,1035 1007.5,1025 1006.2,1015 1010,1006.2 1025,1005 1037.5,997.5 1042.5,990 1050,980 1055,972.5 1070,972.5 1072.5,987.5 1082.5,980 1092.5,987.5 1102.5,978.8 1115,990 1122.5,1005 1135,1006.2 1137.5,1010 1135,1025 1125,1032.5 1115,1035 1105,1037.5 1095,1040 1090,1045 1090,1055 1090,1067.5 1075,1070 1060,1067.5 1055,1062.5 1045,1057.5 1032.5,1052.5 1025,1050 1010,1047.5"/>
<polygon fill="#7b1712" class="s" points="1137.5,1010 1145,1007.5 1150,1002.5 1157.5,1000 1162.5,995 1170,985 1180,980 1190,980 1197.5,977.5 1200,980 1195,990 1197.5,1000 1205,1010 1212.5,1017.5 1212.5,1020 1200,1030 1190,1040 1185,1047.5 1180,1050 1175,1050 1165,1050 1160,1045 1150,1040 1140,1035 1130,1035 1125,1032.5 1135,1025"/>
<polygon fill="#b43c19" stroke="#b43c19" class="c" points="1240,1080 1245,1070 1255,1067.5 1260,1060 1261.2,1070 1262.5,1085 1260,1095 1255,1107.5 1252.5,1113.8 1245,1110 1242.5,1100 1238.8,1090"/>
<polygon fill="#b43c19" stroke="#b43c19" class="c" points="767.5,1033.8 770,1022.5 772.5,1012.5 770,1007.5 772.5,1002.5 767.5,1000 766.2,992.5 770,986.2 782.5,983.8 795,983.8 797.5,978.8 807.5,975 817.5,977.5 822.5,985 827.5,987.5 840,988.8 857.5,990 865,995 875,1000 890,1006.2 910,1006.2 917.5,1007.5 927.5,1013.8 940,1013.8 950,1018.8 962.5,1021.2 965,1022.5 972.5,1032.5 982.5,1037.5 992.5,1040 1000,1042.5 1010,1047.5 1025,1050 1032.5,1052.5 1045,1057.5 1055,1062.5 1060,1067.5 1075,1070 1090,1067.5 1092.5,1075 1090,1087.5 1080,1095 1067.5,1102.5 1057.5,1107.5 1045,1110 1032.5,1112.5 1025,1117.5 1020,1125 1012.5,1127.5 1005,1135 997.5,1145 990,1155 985,1165 985,1175 990,1182.5 995,1192.5 987.5,1197.5 977.5,1205 970,1212.5 965,1220 962.5,1230 950,1230 940,1232.5 932.5,1237.5 925,1247.5 920,1255 915,1252.5 905,1252.5 900,1252.5 890,1250 880,1248.8 870,1246.2 855,1245 845,1247.5 835,1250 825,1255 815,1261.2 807.5,1257.5 802.5,1250 800,1242.5 795,1235 797.5,1230 790,1225 782.5,1217.5 775,1211.2 770,1210 770,1200 775,1192.5 782.5,1185 790,1180 785,1175 782.5,1165 785,1157.5 795,1147.5 790,1137.5 786.2,1130 787.5,1122.5 797.5,1120 803.8,1112.5 805,1105 810,1100 812.5,1095 812.5,1082.5 815,1075 822.5,1070 830,1067.5 835,1062.5 830,1055 827.5,1047.5 822.5,1045 817.5,1042.5 807.5,1043.8 795,1041.2 786.2,1040 787.5,1035 787.5,1028.8 775,1030"/>
<polygon fill="#f0a82f" class="s" points="767.5,1033.8 770,1022.5 772.5,1012.5 770,1007.5 772.5,1002.5 767.5,1000 766.2,992.5 770,986.2 782.5,983.8 795,983.8 797.5,978.8 807.5,975 817.5,977.5 822.5,985 825,992.5 827.5,1000 825,1007.5 822.5,1015 820,1020 825,1025 825,1035 817.5,1042.5 807.5,1043.8 795,1041.2 786.2,1040 787.5,1035 787.5,1028.8 775,1030"/>
<polygon fill="#66b233" class="s" points="822.5,985.5 827.5,987.5 840,988.8 857.5,990 865,995 875,1000 890,1006.2 885,1010 875,1011.2 862.5,1011.2 855,1013.8 845,1011.2 835,1010 827.5,1010 826.2,1000"/>
<polygon fill="#f0a82f" class="s" points="922.5,1045 927.5,1041.2 935,1045 942.5,1050 950,1055 955,1060 955,1067.5 947.5,1063.8 940,1060 935,1063.8 927.5,1060 923.8,1055"/>
<polygon fill="#f0a82f" class="s" points="942.5,1045 950,1035 962.5,1023.8 965,1022.5 972.5,1032.5 982.5,1037.5 987.5,1042.5 980,1050 970,1057.5 966.2,1065 965,1070 957.5,1068.8 955,1060 950,1055 945,1050"/>
<polygon fill="#f0a82f" class="s" points="787.5,1122.5 797.5,1120 803.8,1112.5 805,1105 822.5,1101.2 830,1105 837.5,1110 847.5,1115 846.2,1125 850,1132.5 852.5,1145 860,1147.5 855,1157.5 850,1165 845,1170 835,1175 830,1180 827.5,1187.5 820,1187.5 810,1190 802.5,1187.5 795,1180 790,1180 785,1175 782.5,1165 785,1157.5 795,1147.5 790,1137.5 786.2,1130"/>
<polygon fill="#b43c19" stroke="#b43c19" class="c" points="1060,1170 1067.5,1165 1075,1161.2 1082.5,1160 1090,1166.2 1090,1170 1085,1175 1080,1180 1075,1181.2 1072.5,1175 1065,1172.5"/>
<polygon fill="#b43c19" stroke="#b43c19" class="c" points="1102.5,1158.8 1110,1157.5 1115,1162.5 1115,1166.2 1107.5,1162.5"/>
<polygon fill="#b43c19" stroke="#b43c19" class="c" points="1025,1190 1032.5,1186.2 1037.5,1187.5 1035,1191.2 1028.8,1192.5"/>
<polygon fill="#b43c19" stroke="#b43c19" class="c" points="1030,1198.8 1033.8,1198.8 1035,1201.2 1030,1201.2"/>
<polygon fill="#f0a82f" stroke="#f0a82f" class="c" points="767.5,1033.8 775,1030 787.5,1028.8 787.5,1035 786.2,1040 795,1041.2 807.5,1043.8 817.5,1042.5 822.5,1045 827.5,1047.5 830,1055 835,1062.5 830,1067.5 822.5,1070 815,1075 812.5,1082.5 812.5,1095 810,1100 805,1105 803.8,1112.5 797.5,1120 787.5,1122.5 786.2,1130 790,1137.5 795,1147.5 785,1157.5 782.5,1165 785,1175 790,1180 782.5,1185 775,1192.5 770,1200 770,1210 755,1213.8 740,1207.5 725,1205 727.5,1195 735,1180 735,1165 740,1155 730,1152.5 725,1140 732.5,1120 740,1110 747.5,1100 755,1085 760,1072.5 765,1055 766.2,1040"/>
<polygon class="g" points="681.2,1364 687.5,1358.8 707.5,1341.2 725,1337.5 742.5,1333.8 760,1328.8 770,1322.5 782.5,1307.5 795,1287.5 803.8,1270 820,1268 821.2,1277.5 827.5,1287.5 837.5,1296.2 850,1300 860,1300 865,1300 875,1303.8 885,1302.5 887.5,1300 890,1310 900,1312.5 910,1313.8 920,1315 930,1311.2 940,1307.5 942.5,1301.2 950,1297.5 960,1296.2 965,1293.8 970,1296.2 977.5,1296.2 985,1287.5 997.5,1281.2 1010,1277.5 1030,1277 1050,1276.2 1060,1275 1067.5,1272.5 1080,1273.8 1095,1270.5 1110,1271.2 1122.5,1273 1137.5,1282.5 1147.5,1277.5 1169,1270 1187,1276 1196,1270 1214,1277.5 1235,1276 1256,1265.5 1271,1262.5 1280,1265.5 1286,1282 1307,1273 1307,1282 1292,1294 1290.5,1309 1307,1324 1310,1336 1304,1348 1292,1364"/>
<polyline class="gl" points="1235,1276 1223,1291 1226,1306 1224.5,1330 1226,1342 1217,1364"/>
<polyline class="gl" points="910,1315 920,1328.8 920,1342.5 921.2,1352.5 918.8,1364"/>
<polygon fill="#f0a82f" stroke="#f0a82f" class="c" points="1212.5,1017.5 1222.5,1015 1235,1010 1247.5,1007.5 1257.5,1010 1267.5,1015 1280,1022.5 1285,1032.5 1287.5,1045 1292.5,1057.5 1300,1067.5 1310,1077.5 1320,1085 1330,1095 1340,1105 1350,1112.5 1360,1117.5 1360,1117.5 1380,1118.8 1390,1127.5 1400,1137.5 1407.5,1140 1415,1152.5 1425,1158.8 1435,1157.5 1436.2,1160 1440,1170 1445,1180 1450,1192.5 1452.5,1200 1447.5,1207.5 1442.5,1210 1440,1222.5 1440,1232.5 1443.8,1235 1452.5,1230 1457.5,1220 1465,1210 1465,1203.8 1472.5,1196.2 1480,1195 1478.8,1180 1470,1172.5 1460,1171.2 1457.5,1160 1460,1155 1465,1150 1462.5,1145 1465,1140 1472.5,1138.8 1480,1140 1490,1145 1497.5,1150 1502.5,1155 1507.5,1158.8 1512.5,1157.5 1512.5,1147.5 1500,1132.5 1490,1127.5 1475,1122.5 1462.5,1117.5 1450,1112.5 1440,1107.5 1437.5,1102.5 1443.8,1095 1442.5,1091.2 1425,1091.2 1415,1092.5 1405,1087.5 1395,1082.5 1385,1072.5 1377.5,1060 1375,1047.5 1372.5,1035 1360,1027.5 1350,1020 1340,1010 1345,1010 1337.5,1000 1335,992.5 1337.5,982.5 1335,975 1332.5,970 1340,965 1350,960 1360,957.5 1365,955 1367.5,947.5 1365,942.5 1362.5,935 1365,928 1360,926 1345,923 1335,921.2 1330,910 1322.5,910 1315,912.5 1305,915 1295,915 1287.5,915 1285,925 1280,930 1275,935 1267.5,932.5 1262.5,927.5 1257.5,932.5 1252.5,940 1250,952.5 1247.5,945 1242.5,937.5 1237.5,935 1230,937.5 1225,945 1222.5,950 1217.5,950 1205,951.2 1195,955 1190,965 1192.5,975 1200,980 1195,990 1197.5,1000 1205,1010"/>
<polygon fill="#66b233" class="s" points="1195,955 1205,951.2 1217.5,950 1222.5,955 1217.5,962.5 1205,965 1197.5,962.5"/>
<polygon fill="#b43c19" class="s" points="1425,1130 1437.5,1120 1450,1127.5 1462.5,1132.5 1465,1140 1462.5,1145 1465,1150 1460,1155 1457.5,1160 1460,1171.2 1470,1172.5 1478.8,1180 1480,1195 1472.5,1196.2 1465,1203.8 1465,1210 1457.5,1220 1452.5,1230 1443.8,1235 1440,1232.5 1440,1222.5 1442.5,1210 1447.5,1207.5 1452.5,1200 1450,1192.5 1445,1180 1440,1170 1436.2,1160 1435,1152.5 1430,1142.5"/>
<polygon fill="#f0a82f" class="s" points="1365,955 1370,956.2 1372.5,960 1368.8,961.2"/>
<polygon fill="#b43c19" stroke="#b43c19" class="c" points="1347.5,1242.5 1350,1235 1357.5,1232.5 1370,1228.8 1385,1236.2 1400,1233.8 1415,1230 1436.2,1222.5 1432.5,1230 1425,1242.5 1425,1255 1430,1265 1427.5,1272.5 1425,1280 1417.5,1278.8 1407.5,1272.5 1395,1265 1382.5,1260 1370,1256.2 1360,1252.5 1350,1247.5"/>
<polygon fill="#f0a82f" stroke="#f0a82f" class="c" points="1225,1140 1230,1132 1240,1127 1250,1125 1257.5,1122.5 1262.5,1127.5 1267.5,1140 1270,1152 1267.5,1165 1267.5,1175 1265,1190 1258,1203 1245,1206 1234,1200 1231,1188 1230,1170 1228,1155"/>
<polygon fill="#f0a82f" stroke="#f0a82f" class="c" points="1400,1305 1402.5,1303.8 1410,1308.8 1408.8,1311.2 1405,1310"/>
<polygon fill="#b43c19" stroke="#b43c19" class="c" points="1358.8,1312.5 1361.2,1311.2 1363,1313.8 1360,1314.5"/>
<polygon fill="#b43c19" stroke="#b43c19" class="c" points="1332.5,1280 1335,1279.5 1336.2,1282.5 1333.8,1283"/>
<polygon fill="#b43c19" stroke="#b43c19" class="c" points="1588.8,846.2 1595,844.5 1605,846.2 1620,845.5 1630,842.5 1642.5,847.5 1650,840 1665,833.8 1672.5,823.8 1680,821.2 1690,827.5 1697.5,840 1710,850 1722.5,860 1727.5,870 1730,880 1732.5,892.5 1737.5,907.5 1743.8,915 1752.5,915 1765,906.2 1772.5,906.2 1776.2,912.5 1777.5,925 1770,927.5 1762.5,935 1758.8,950 1761.2,960 1761.2,971.2 1750,970 1740,966.2 1730,966.2 1717.5,966.2 1707.5,970 1697.5,977.5 1690,985 1680,992.5 1660,993.8 1650,996.2 1640,996.2 1627.5,995 1617.5,997.5 1613.8,992.5 1610,987.5 1605,985 1600,977.5 1602.5,973.8 1595,972.5 1590,977.5 1575,970 1570,965 1570,957.5 1555,950 1550,940 1540,930 1537.5,927.5 1545,922.5 1555,920 1560,905 1563.8,892.5 1565,880 1572.5,862.5 1580,855 1585,852.5"/>
<polygon fill="#b43c19" stroke="#b43c19" class="c" points="1613.8,992.5 1617.5,997.5 1627.5,995 1640,996.2 1650,996.2 1660,993.8 1680,992.5 1690,985 1697.5,977.5 1707.5,970 1717.5,966.2 1730,966.2 1740,966.2 1750,970 1761.2,971.2 1762.5,980 1752.5,985 1750,995 1750,1005 1750,1012.5 1745,1020 1752.5,1027.5 1761.2,1036.2 1745,1037.5 1735,1040 1725,1045 1722.5,1050 1720,1055 1715,1057.5 1712.5,1070 1705,1072.5 1692.5,1076.2 1680,1075 1670,1072.5 1660,1075 1650,1080 1640,1082.5 1630,1085 1627.5,1075 1622.5,1065 1612.5,1057.5 1610,1050 1608.8,1035 1617.5,1030 1620,1022.5 1615,1015 1607.5,1007.5 1602.5,1000 1605,992.5 1610,987.5"/>
<polygon fill="#b43c19" stroke="#b43c19" class="c" points="1565.7,1151.7 1567.8,1143.5 1578,1133.2 1579.1,1111.6 1600.6,1107.5 1610.9,1096.2 1629.4,1086 1649.9,1081.9 1670.4,1072.6 1693,1076.7 1713.6,1071.6 1715.6,1059.3 1723.8,1057.2 1727.9,1065.4 1725.9,1071.6 1721.8,1081.9 1721.8,1088 1717.7,1090.1 1691,1089.1 1674.5,1096.2 1662.2,1102.4 1656.1,1106.5 1660.2,1114.7 1674.5,1121.9 1664.3,1118.8 1668.4,1127 1662.2,1128.7 1656.1,1122.9 1654,1128.7 1658.1,1134.2 1649.9,1133.2 1643.7,1128.1 1636.6,1120.9 1630.4,1115.7 1625.7,1116.4 1627.3,1129.1 1635.5,1137.3 1643.7,1149.6 1652,1162 1645.8,1166.1 1639.6,1166.1 1643.7,1171.2 1647.8,1174.3 1656.1,1180.4 1666.3,1188.6 1674.5,1194.8 1678.6,1203 1680.7,1212.3 1672.5,1207.1 1664.3,1201 1660.2,1199.9 1654,1202 1643.7,1201 1633.5,1196.9 1615,1197.9 1596.5,1202 1590.3,1190.7 1586.2,1182.5 1582.1,1178.4 1578,1174.3 1569.8,1166.1 1565.7,1157.8"/>
<polygon fill="#b43c19" stroke="#b43c19" class="c" points="1596.5,1216.4 1602.7,1207.1 1615,1201 1633.5,1202 1652,1205.1 1656.1,1210.2 1662.2,1213.3 1664.3,1221.5 1660.2,1227.7 1658.1,1231.8 1656.1,1244.1 1659.1,1256.4 1652,1250.2 1643.7,1246.1 1641.7,1260.5 1631.4,1248.2 1625.3,1254.4 1619.1,1252.3 1615,1235.9 1610.9,1231.8 1604.7,1223.6"/>
<polygon fill="#b43c19" stroke="#b43c19" class="c" points="1649.9,1171.2 1662.2,1172.2 1676.6,1182.5 1685.8,1191.7 1692,1195.8 1687.9,1198.5 1678.6,1193.8 1670.4,1190.7 1662.2,1184.5 1656.1,1180.4 1650.9,1176.3"/>
<polygon fill="#b43c19" stroke="#b43c19" class="c" points="1572.9,1207.1 1578,1201 1584.2,1202 1586.2,1211.2 1580.1,1213.3 1573.9,1212.3"/>
<polygon fill="#b43c19" stroke="#b43c19" class="c" points="1583.2,1219.4 1587.3,1220.5 1590.3,1226.6 1587.3,1227.7"/>
<polygon fill="#b43c19" stroke="#b43c19" class="c" points="1547.2,1156.8 1553.4,1154.8 1558.5,1168.1 1555.4,1167.1"/>
<polygon fill="#b43c19" stroke="#b43c19" class="c" points="1577,1188.6 1581.1,1186.6 1583.2,1194.8 1579.1,1195.8"/>
<polygon fill="#b43c19" stroke="#b43c19" class="c" points="1676.6,1100.3 1680.7,1098.3 1683.8,1104.5 1678.6,1106.5"/>
<polygon fill="#b43c19" stroke="#b43c19" class="c" points="1703.3,1104.5 1707.4,1103.4 1710.5,1105.5 1706.4,1106.5"/>
<polygon fill="#b43c19" stroke="#b43c19" class="c" points="1696.1,1125 1703.3,1122.9 1706.4,1125 1702.3,1130.1 1697.1,1129.1"/>
<polygon fill="#b43c19" stroke="#b43c19" class="c" points="1722.8,1146.6 1732,1139.4 1738.2,1139.4 1744.4,1150.7 1736.1,1151.7 1727.9,1149.6"/>
<polygon fill="#b43c19" stroke="#b43c19" class="c" points="1726.9,1170.2 1734.1,1168.1 1738.2,1176.3 1734.1,1184.5 1731,1182.5"/>
<polygon fill="#b43c19" stroke="#b43c19" class="c" points="1754.6,1194.8 1762.8,1192.8 1764.9,1195.8 1756.7,1196.9"/>
<polygon fill="#b43c19" stroke="#b43c19" class="c" points="1737.2,1206.1 1745.4,1199.9 1747.4,1202 1739.2,1207.1"/>
<polygon fill="#b43c19" stroke="#b43c19" class="c" points="1797.7,1244.1 1803.9,1235.9 1810.1,1231.8 1809,1240 1803.9,1248.2 1799.8,1252.3"/>
<polygon fill="#b43c19" stroke="#b43c19" class="c" points="1686.9,1166.1 1691,1164 1693,1170.2 1688.9,1171.2"/>
<polygon fill="#b43c19" stroke="#b43c19" class="c" points="1656.1,1264.6 1660.2,1265.6 1662.2,1271.8 1658.1,1271.8"/>
<polygon fill="#b43c19" stroke="#b43c19" class="c" points="1783.4,1260.5 1785.4,1264.6 1786.4,1272.8 1783.4,1271.8 1782.3,1266.7"/>
<polygon fill="#b43c19" stroke="#b43c19" class="c" points="1777.2,1276.9 1779.7,1274.9 1780.9,1278"/>
<polygon fill="#b43c19" stroke="#b43c19" class="c" points="1670,1151.7 1671.7,1149.6 1674.9,1150.9 1673.5,1153.7"/>
<polygon fill="#b43c19" stroke="#b43c19" class="c" points="1668,1158.9 1669.6,1156.8 1672.9,1158 1671.5,1160.9"/>
<polygon fill="#b43c19" stroke="#b43c19" class="c" points="1661.8,1162 1663.4,1159.9 1666.7,1161.1 1665.3,1164"/>
<polygon fill="#b43c19" stroke="#b43c19" class="c" points="1654.6,1162 1656.3,1159.9 1659.5,1161.1 1658.1,1164"/>
<polygon fill="#b43c19" stroke="#b43c19" class="c" points="1644.4,1165 1646,1163 1649.3,1164.2 1647.8,1167.1"/>
<polygon fill="#b43c19" stroke="#b43c19" class="c" points="1686.4,1167.1 1688.1,1165 1691.4,1166.3 1689.9,1169.1"/>
<polygon fill="#b43c19" stroke="#b43c19" class="c" points="1717.2,1171.2 1718.9,1169.1 1722.2,1170.4 1720.7,1173.2"/>
<polygon fill="#b43c19" stroke="#b43c19" class="c" points="1697.7,1202 1699.4,1199.9 1702.7,1201.2 1701.2,1204"/>
<polygon fill="#b43c19" stroke="#b43c19" class="c" points="1709,1208.2 1710.7,1206.1 1714,1207.3 1712.5,1210.2"/>
<polygon fill="#b43c19" stroke="#b43c19" class="c" points="1715.2,1213.3 1716.8,1211.2 1720.1,1212.5 1718.7,1215.3"/>
<polygon fill="#b43c19" stroke="#b43c19" class="c" points="1688.5,1213.3 1690.1,1211.2 1693.4,1212.5 1692,1215.3"/>
<polygon fill="#b43c19" stroke="#b43c19" class="c" points="1704.9,1215.3 1706.6,1213.3 1709.9,1214.5 1708.4,1217.4"/>
<polygon fill="#b43c19" stroke="#b43c19" class="c" points="1677.2,1220.5 1678.9,1218.4 1682.1,1219.7 1680.7,1222.5"/>
<polygon fill="#b43c19" stroke="#b43c19" class="c" points="1691.6,1219.4 1693.2,1217.4 1696.5,1218.6 1695.1,1221.5"/>
<polygon fill="#b43c19" stroke="#b43c19" class="c" points="1695.7,1227.7 1697.3,1225.6 1700.6,1226.8 1699.2,1229.7"/>
<polygon fill="#b43c19" stroke="#b43c19" class="c" points="1702.9,1233.8 1704.5,1231.8 1707.8,1233 1706.4,1235.9"/>
<polygon fill="#b43c19" stroke="#b43c19" class="c" points="1715.2,1227.7 1716.8,1225.6 1720.1,1226.8 1718.7,1229.7"/>
<polygon fill="#b43c19" stroke="#b43c19" class="c" points="1723.4,1225.6 1725.1,1223.6 1728.3,1224.8 1726.9,1227.7"/>
<polygon fill="#b43c19" stroke="#b43c19" class="c" points="1737.8,1229.7 1739.4,1227.7 1742.7,1228.9 1741.3,1231.8"/>
<polygon fill="#b43c19" stroke="#b43c19" class="c" points="1717.2,1240 1718.9,1237.9 1722.2,1239.2 1720.7,1242"/>
<polygon fill="#b43c19" stroke="#b43c19" class="c" points="1721.4,1237.9 1723,1235.9 1726.3,1237.1 1724.8,1240"/>
<polygon fill="#b43c19" stroke="#b43c19" class="c" points="1668,1243.1 1669.6,1241 1672.9,1242.2 1671.5,1245.1"/>
<polygon fill="#b43c19" stroke="#b43c19" class="c" points="1680.3,1243.1 1681.9,1241 1685.2,1242.2 1683.8,1245.1"/>
<polygon fill="#b43c19" stroke="#b43c19" class="c" points="1695.7,1244.1 1697.3,1242 1700.6,1243.3 1699.2,1246.1"/>
<polygon fill="#b43c19" stroke="#b43c19" class="c" points="1710.1,1245.1 1711.7,1243.1 1715,1244.3 1713.6,1247.2"/>
<polygon fill="#b43c19" stroke="#b43c19" class="c" points="1727.5,1250.2 1729.2,1248.2 1732.4,1249.4 1731,1252.3"/>
<polygon fill="#b43c19" stroke="#b43c19" class="c" points="1736.8,1248.2 1738.4,1246.1 1741.7,1247.4 1740.2,1250.2"/>
<polygon fill="#b43c19" stroke="#b43c19" class="c" points="1753.2,1237.9 1754.8,1235.9 1758.1,1237.1 1756.7,1240"/>
<polygon fill="#b43c19" stroke="#b43c19" class="c" points="1768.6,1219.4 1770.2,1217.4 1773.5,1218.6 1772.1,1221.5"/>
<polygon fill="#b43c19" stroke="#b43c19" class="c" points="1774.7,1222.5 1776.4,1220.5 1779.7,1221.7 1778.2,1224.6"/>
<polygon fill="#b43c19" stroke="#b43c19" class="c" points="1767.6,1228.7 1769.2,1226.6 1772.5,1227.9 1771,1230.7"/>
<polygon fill="#b43c19" stroke="#b43c19" class="c" points="1775.8,1231.8 1777.4,1229.7 1780.7,1230.9 1779.3,1233.8"/>
<polygon fill="#b43c19" stroke="#b43c19" class="c" points="1781.9,1235.9 1783.6,1233.8 1786.9,1235.1 1785.4,1237.9"/>
<polygon fill="#b43c19" stroke="#b43c19" class="c" points="1794.3,1226.6 1795.9,1224.6 1799.2,1225.8 1797.7,1228.7"/>
<polygon fill="#b43c19" stroke="#b43c19" class="c" points="1758.3,1210.2 1760,1208.2 1763.2,1209.4 1761.8,1212.3"/>
<polygon fill="#b43c19" stroke="#b43c19" class="c" points="1764.5,1202 1766.1,1199.9 1769.4,1201.2 1768,1204"/>
<polygon fill="#b43c19" stroke="#b43c19" class="c" points="1694.7,1141.4 1696.3,1139.4 1699.6,1140.6 1698.2,1143.5"/>
<polygon fill="#b43c19" stroke="#b43c19" class="c" points="1661.8,1213.3 1663.4,1211.2 1666.7,1212.5 1665.3,1215.3"/>
<polygon fill="#b43c19" stroke="#b43c19" class="c" points="1664.9,1225.6 1666.5,1223.6 1669.8,1224.8 1668.4,1227.7"/>
<polygon fill="#b43c19" stroke="#b43c19" class="c" points="1655.6,1231.8 1657.3,1229.7 1660.6,1230.9 1659.1,1233.8"/>
<polygon fill="#b43c19" stroke="#b43c19" class="c" points="1680.2,1298.4 1682.2,1290.4 1686.2,1286.4 1688.2,1290.4 1698.2,1286.4 1702.2,1292.4 1720.2,1288.4 1744.3,1287.4 1748.3,1291.4 1760.3,1286.4 1758.3,1294.4 1740.3,1300.4 1720.2,1306.5 1716.2,1302.4 1700.2,1300.4 1682.2,1300.4"/>
<polygon fill="#b43c19" stroke="#b43c19" class="c" points="1696.2,1312.5 1699.2,1311.5 1701.2,1313.5 1698.2,1314.1"/>
<polygon fill="#b43c19" stroke="#b43c19" class="c" points="1938.7,1246.3 1942.7,1240.3 1952.7,1238.3 1954.7,1230.3 1964.7,1228.3 1974.7,1224.3 1984.8,1216.3 1996.8,1206.3 1990.8,1216.3 1982.8,1224.3 1988.8,1232.3 1980.8,1238.3 1974.7,1244.3 1968.7,1250.3 1960.7,1256.4 1952.7,1258.4 1944.7,1256.4"/>
<polyline class="l" points="1230,365.5 1232.5,373 1240,378 1245,385.5 1242.5,393 1240,403 1233.8,413"/>
<polyline class="l" points="1222.5,445.5 1230,433 1232.5,433"/>
<polyline class="l" points="1358.1,127.9 1363.7,124.2 1369.2,123.3 1383.9,121.4"/>
<polyline class="l" points="1340,252.5 1355,265 1370,277.5 1387.5,290 1402.5,290 1412.5,287.5 1420,297.5 1427.5,302.5"/>
<polyline class="l" points="1315,358 1325,365.5 1337.5,378 1352.5,378 1355,368 1365,365.5 1370,353 1380,350.5 1392.5,353 1402.5,355.5"/>
<polyline class="l" points="1310,468 1325,473 1332.5,483 1340,473 1355,473 1357.5,438 1365,435.5 1375,440.5 1380,430.5 1387.5,428 1395,425.5 1405,410.5"/>
<polyline class="l" points="1355,473 1365,483 1362.5,503 1375,503 1377.5,518 1387.5,513 1392.5,505.5 1397.5,503 1405,508"/>
<polyline class="l" points="1412.5,478 1415,458 1412.5,445.5 1420,435.5 1430,430.5"/>
<polyline class="l" points="1362.5,503 1350,505.5 1347.5,518 1345,533 1340,543 1342.5,548 1345,558 1345,568 1360,565.5 1375,563 1387.5,565.5 1395,568"/>
<polyline class="l" points="1477.5,385.5 1492.5,385.5 1505,380.5 1520,375.5 1530,368 1540,360.5 1547.5,348 1557.5,345.5 1560,358 1570,360.5 1580,353 1595,343 1605,335.5 1615,325.5"/>
<polyline class="l" points="1482.5,281.2 1491.2,282.5 1497.5,295 1512.5,302.5 1520,285 1537.5,285 1550,307.5 1555,320 1555,335 1560,353"/>
<polyline class="l" points="1572.5,575.5 1575,583 1582.5,593 1585,603 1587.5,613 1590,620.5"/>
<polyline class="l" points="1572.5,575.5 1585,573 1595,578 1600,583 1610,578 1617.5,573"/>
<polyline class="l" points="1238.8,593 1250,590.5 1262.5,588 1267.5,598"/>
<polyline class="l" points="885,638 883.8,648 890,655.5 905,654.2 912.5,658 915,663 920,663"/>
<polyline class="l" points="1160,695 1172.5,697.5 1185,697.5 1192.5,695 1200,687.5 1205,682.5"/>
<polyline class="l" points="1150,715 1165,715 1175,707.5 1190,705 1203.8,705"/>
<polyline class="l" points="1145,732.5 1160,730 1172.5,725 1185,722.5 1195,730"/>
<polyline class="l" points="1162.5,745 1170,737.5 1180,740 1185,742.5"/>
<polyline class="l" points="1252.5,657.5 1262.5,665 1270,672.5 1280,675 1292.5,677.5"/>
<polyline class="l" points="1207.5,720 1220,715 1230,717.5 1240,712.5 1252.5,715 1257.5,727.5 1262.5,740 1260,745 1270,747.5 1275,755 1280,767.5 1290,770 1295,775 1302.5,780 1315,782.5 1325,780 1330,775 1335,767.5 1327.5,762.5"/>
<polyline class="l" points="1190,760 1200,777.5 1212.5,775 1225,770 1232.5,777.5 1230,790 1225,800 1232.5,802.5 1240,810 1240,820 1250,817.5 1255,810 1260,800 1270,792.5 1275,780"/>
<polyline class="l" points="1187.5,792.5 1195,795 1200,805 1205,810 1212.5,812.5 1215,825 1212.5,832.5"/>
<polyline class="l" points="1240,820 1240,837.5 1237.5,852.5 1240,870 1240,885"/>
<polyline class="l" points="1260,800 1265,812.5 1275,817.5 1282.5,827.5 1285,845 1280,857.5 1277.5,870 1280,882.5 1277.5,890"/>
<polyline class="l" points="1345,710 1350,705 1355,710 1357.5,715 1347.5,715 1345,710"/>
<polyline class="l" points="1335,767.5 1342.5,765 1355,762.5 1367.5,755"/>
<polyline class="l" points="1247.5,687.5 1252.5,692.5 1245,692.5 1242.5,686.2 1247.5,687.5"/>
<polyline class="l" points="1420,632.5 1422.5,645 1425,665 1420,675 1407.5,685 1405,697.5 1407.5,720 1417.5,730 1425,732.5 1437.5,737.5 1450,740 1457.5,750"/>
<polyline class="l" points="1472.5,633.8 1480,645 1475,660 1485,670 1482.5,685 1480,702.5 1472.5,707.5 1467.5,722.5 1462.5,740 1450,750 1445,765 1440,780"/>
<polyline class="l" points="1425,665 1440,660 1450,657.5 1465,660 1475,660 1487.5,672.5 1505,665 1525,657.5 1535,652.5 1547.5,637.5 1542.5,622.5"/>
<polyline class="l" points="1437.5,667.5 1435,680 1440,695 1450,700 1462.5,705 1480,702.5 1495,705 1507.5,715 1512.5,725 1512.5,737.5 1505,745 1500,757.5 1495,770 1490,787.5 1497.5,802.5"/>
<polyline class="l" points="1525,657.5 1537.5,675 1547.5,682.5 1557.5,692.5 1570,690"/>
<polyline class="l" points="1565,695 1545,707.5 1540,722.5 1545,742.5 1540,742.5 1520,740 1512.5,737.5"/>
<polyline class="l" points="1545,742.5 1547.5,752.5 1550,760 1540,767.5 1537.5,780 1542.5,797.5"/>
<polyline class="l" points="1547.5,752.5 1560,755 1570,765 1580,762.5 1587.5,762.5"/>
<polyline class="l" points="1377.5,705 1382.5,700 1395,695 1405,685"/>
<polyline class="l" points="1387.5,750 1395,742.5 1405,740 1417.5,732.5"/>
<polyline class="l" points="1457.5,750 1472.5,752.5 1485,752.5 1497.5,755 1505,770 1500,777.5 1492.5,782.5 1490,790"/>
<polyline class="l" points="1520,777.5 1535,772.5 1537.5,780"/>
<polyline class="l" points="1335,805 1350,800 1365,797.5 1375,795 1382.5,790 1387.5,780 1395,785 1400,795 1402.5,805 1395,815 1390,825 1395,835"/>
<polyline class="l" points="1365,797.5 1362.5,812.5 1367.5,817.5 1382.5,815 1395,815"/>
<polyline class="l" points="1402.5,805 1417.5,810 1430,812.5 1435,805 1435,795 1440,790"/>
<polyline class="l" points="1435,805 1440,817.5 1445,827.5 1452.5,832.5"/>
<polyline class="l" points="1435,792.5 1445,797.5 1455,800 1465,800 1475,805"/>
<polyline class="l" points="1375,797.5 1380,793.8 1385,797.5 1382.5,802.5 1376.2,801.2 1375,797.5"/>
<polyline class="l" points="1475,817.5 1485,827.5 1485,837.5 1480,845 1485,852.5 1492.5,857.5"/>
<polyline class="l" points="1512.5,815 1517.5,827.5 1525,837.5 1525,842.5"/>
<polyline class="l" points="1450,845 1455,850 1457.5,860 1455,870"/>
<polyline class="l" points="1280,897.5 1282.5,907.5 1285,915"/>
<polyline class="l" points="1330,887.5 1332.5,900 1330,910"/>
<polyline class="l" points="1343.8,872.5 1355,877.5 1365,886.2"/>
<polyline class="l" points="1365,850 1380,860 1390,865 1400,867.5 1405,880"/>
<polyline class="l" points="1390,865 1387.5,872.5 1392.5,880"/>
<polyline class="l" points="1427.5,857.5 1432.5,856.2 1435,861.2 1430,862.5 1427.5,857.5"/>
<polyline class="l" points="1405,962.5 1410,970 1420,972.5 1425,977.5"/>
<polyline class="l" points="1430,972.5 1445,960 1460,955 1470,960 1480,955"/>
<polyline class="l" points="1422.5,950 1430,945 1432.5,950 1427.5,955 1422.5,950"/>
<polyline class="l" points="1452.5,887.5 1455,902.5 1460,910 1455,920 1457.5,927.5"/>
<polyline class="l" points="1455,887.5 1470,885 1480,882.5 1490,880 1495,887.5 1492.5,895 1495,907.5 1497.5,920 1497.5,937.5"/>
<polyline class="l" points="1460,910 1477.5,905 1490,907.5 1497.5,905 1505,895 1517.5,897.5 1530,900 1535,892.5 1545,885 1560,885"/>
<polyline class="l" points="1505,895 1512.5,887.5 1520,882.5 1530,870 1545,867.5 1555,862.5 1567.5,860"/>
<polyline class="l" points="1530,900 1527.5,910 1535,920"/>
<polyline class="l" points="1495,870 1505,872.5 1512.5,867.5 1520,860"/>
<polyline class="l" points="997.5,827.5 1005,837.5 1000,852.5 995,860 975,865 970,870"/>
<polyline class="l" points="1005,837.5 1030,840 1040,842.5 1055,837.5 1070,835 1075,825 1080,820 1080,795"/>
<polyline class="l" points="1032.5,890 1035,875 1045,867.5 1050,860 1052.5,850 1055,837.5"/>
<polyline class="l" points="1000,917.5 1007.5,895 1030,890 1045,897.5 1055,912.5 1065,920 1082.5,922.5"/>
<polyline class="l" points="1102.5,912.5 1100,895 1100,882.5 1105,867.5 1107.5,855"/>
<polyline class="l" points="1080,820 1087.5,822.5 1105,825 1120,827.5 1122.5,820 1130,815 1140,800"/>
<polyline class="l" points="1212.5,835 1205,845 1200,860 1195,880"/>
<polyline class="l" points="847.5,1117.5 857.5,1120 870,1117.5 880,1107.5 890,1100 905,1091.2 915,1087.5 927.5,1090 935,1097.5 942.5,1097.5 947.5,1100 952.5,1105 955,1115 950,1122.5 947.5,1126.2 955,1135 960,1137.5 965,1142.5"/>
<polyline class="l" points="872.5,1118.8 885,1122.5 892.5,1127.5 890,1132.5 900,1131.2 910,1130 910,1120 905,1107.5 905,1100 906.2,1092.5"/>
<polyline class="l" points="955,1067.5 952.5,1080 945,1090 942.5,1097.5"/>
<polyline class="l" points="1025,1050 1025,1060 1020,1072.5 1012.5,1085 1012.5,1100 1007.5,1110 1005,1120 1012.5,1127.5"/>
<polyline class="l" points="965,1142.5 970,1147.5 975,1145 982.5,1137.5 990,1125 995,1120 1002.5,1122.5 1005,1120"/>
<polyline class="l" points="962.5,1145 952.5,1155 950,1162.5 952.5,1167.5 957.5,1175 962.5,1182.5 962.5,1190 960,1200 957.5,1210 962.5,1220"/>
<polyline class="l" points="847.5,1170 855,1177.5 867.5,1186.2 880,1187.5 895,1188.8 907.5,1190 915,1192.5 917.5,1200 915,1207.5 925,1212.5 927.5,1220 930,1227.5 935,1232.5"/>
<polyline class="l" points="920,1205 930,1200 940,1200 945,1197.5 950,1188.8 957.5,1188.8 962.5,1190"/>
<polyline class="l" points="882.5,1011.2 887.5,1020 897.5,1025 900,1030 905,1030 905,1022.5 912.5,1020 920,1020 925,1017.5 927.5,1025 925,1032.5 930,1037.5 937.5,1042.5 942.5,1045"/>
<polyline class="l" points="1222.5,955 1230,970 1240,975 1237.5,985 1247.5,995 1255,1000 1260,1010"/>
<polyline class="l" points="1237.5,975 1255,972.5 1262.5,965 1275,960 1285,957.5 1287.5,950 1287.5,932.5"/>
<polyline class="l" points="1255,1000 1260,982.5 1270,980 1285,985 1295,987.5 1305,985 1320,985 1335,992.5"/>
<polyline class="l" points="1270,980 1285,975 1300,970 1305,960 1310,940 1322.5,930 1325,925"/>
<polyline class="l" points="1310,940 1320,942.5 1330,945 1332.5,955 1335,960 1330,970"/>
<polyline class="l" points="1262.5,1005 1270,1006.2 1280,1010 1290,1015 1305,1015 1315,1020 1320,1025 1330,1027.5 1340,1022.5"/>
<polyline class="l" points="1282.5,1022.5 1287.5,1017.5 1300,1020 1310,1017.5"/>
<polyline class="l" points="1330,1027.5 1335,1035 1330,1045 1327.5,1060 1325,1070 1320,1085"/>
<polyline class="l" points="1335,1035 1345,1037.5 1355,1042.5 1360,1050 1362.5,1062.5 1365,1070 1360,1080 1360,1090 1370,1095"/>
<polyline class="l" points="1325,1070 1342.5,1075 1355,1070 1365,1067.5"/>
<polyline class="l" points="1370,1060 1380,1065"/>
<polyline class="l" points="1335,1030 1330,1047.5 1327.5,1065 1317.5,1077.5"/>
<polyline class="l" points="1327.5,1065 1342.5,1077.5 1355,1070 1362.5,1060 1377.5,1060"/>
<polyline class="l" points="1360,1087.5 1375,1097.5 1385,1102.5 1390,1110 1405,1105 1415,1092.5"/>
<polyline class="l" points="1385,1102.5 1382.5,1117.5"/>
<polyline class="l" points="1415,1092.5 1412.5,1105 1422.5,1120 1430,1120"/>
<polyline class="l" points="1437.5,1160 1450,1160 1460,1153.8"/>
<polyline class="l" points="1562.5,902.5 1575,901.2 1587.5,907.5 1595,902.5 1607.5,901.2 1625,900 1627.5,887.5 1637.5,880 1645,867.5 1655,867.5 1665,872.5 1672.5,885 1680,895 1690,900 1700,895 1715,890 1728.8,888.8"/>
<polyline class="l" points="1642.5,850 1647.5,867.5"/>
<polyline class="l" points="1595,907.5 1605,912.5 1612.5,922.5 1622.5,935 1645,930 1660,925 1667.5,930 1685,922.5 1690,930 1700,942.5 1715,940 1732.5,937.5 1742.5,947.5 1740,955 1727.5,965"/>
<polyline class="l" points="1622.5,935 1602.5,942.5 1597.5,955 1595,967.5"/>
<polyline class="l" points="1685,922.5 1687.5,915 1690,902.5"/>
<polyline class="l" points="1645,930 1647.5,945 1657.5,960 1662.5,970 1660,992.5"/>
<polyline class="l" points="1687.5,952.5 1695,947.5 1700,955 1697.5,965 1690,965 1687.5,952.5"/>
<polyline class="l" points="1675,992.5 1677.5,1005 1672.5,1015 1675,1025 1680,1040 1690,1045 1700,1042.5 1712.5,1040 1720,1045"/>
<polyline class="l" points="1675,1025 1660,1030 1650,1025 1635,1022.5 1622.5,1022.5"/>
<polyline class="l" points="1660,1030 1650,1037.5 1650,1050 1650,1062.5 1660,1072.5"/>
<polyline class="l" points="1700,992.5 1697.5,1000 1705,1010 1717.5,1007.5 1730,1007.5 1750,1006.2"/>
<polyline class="l" points="1675,1025 1690,1020 1705,1012.5"/>
<polyline class="l" points="1629.4,1086 1647.8,1083.9 1660.2,1092.1 1664.3,1100.3"/>
<polyline class="l" points="1600.6,1107.5 1598.6,1114.7 1608.8,1125 1615,1133.2 1627.3,1135.3"/>
<polyline class="l" points="1578,1133.2 1586.2,1143.5 1590.3,1147.6 1608.8,1145.5 1612.9,1133.2"/>
<polyline class="l" points="1590.3,1147.6 1592.4,1157.8 1598.6,1170.2 1606.8,1172.2 1621.1,1166.1 1631.4,1170.2 1641.7,1172.2"/>
<polyline class="l" points="1598.6,1170.2 1606.8,1182.5 1617,1184.5 1619.1,1194.8"/>
<polyline class="l" points="1623.2,1168.1 1629.4,1178.4 1643.7,1184.5 1658.1,1190.7 1664.3,1198.9"/>
<polyline class="l" points="1631.4,1205.1 1629.4,1215.3 1619.1,1219.4 1617,1231.8 1621.1,1233.8"/>
<polygon class="w" points="1889.2,839.2 1893.7,831.7 1910.2,813.6 1925.2,803.1 1934.2,795.6 1946.2,782.1 1967.3,771.6 1977.8,762.6 1981.5,766.3 1968.8,783.6 1970.3,786.6 1956.8,795.6 1958.3,800.1 1968.8,806.1 1970.3,810.6 1967.3,818.1 1964.3,830.2 1962.8,842.2 1958.3,845.2 1949.2,846.7 1949.2,855.7 1940.2,854.2 1932.7,852.7 1923.7,857.2 1913.2,863.2 1908.7,863.2 1901.2,857.2 1892.2,851.2 1889.2,845.2"/>
<polygon class="w" points="1792.1,1055.2 1791.3,1064.8 1786.5,1068 1779.3,1067.2 1773.7,1066.4 1756.9,1074.4 1754.5,1078.4 1751.3,1085.7 1739.2,1096.9 1728,1114.5 1727.2,1119.3 1752.1,1096.1 1760,1098.5 1768,1096.1 1765.7,1091.3 1772.1,1089.7 1772.9,1093.7 1780.1,1090.5 1798.5,1087.3 1800.1,1084 1795.3,1080.8 1798.5,1076.8 1812.1,1071.2 1812.1,1068.8 1804.9,1068 1796.9,1065.6 1797.7,1055.2"/>
<polygon class="o" points="772.2,139.1 797.7,143.4 798.8,137 804.1,129.6 799.8,121.1 781.8,117.9 780.7,110.5 786,108.3 790.3,109.4 798.8,98.8 804.1,100.9 809.4,108.3 810.5,95.6 816.8,97.7 822.1,115.8 817.9,127.5 817.9,138.1 825.3,133.8 833.8,132.8 840.2,123.2 845.5,133.8 852.9,129.2 860.4,129.2 864.6,141.3 868.9,133.8 878.4,139.8 891.2,139.1 897.6,132.1 901.8,133.4 907.1,145.5 913.5,146.1 913.5,162.5 919.9,178.4 916.7,193.3 903.9,202.9 891.2,211.4 878.4,212 855.1,218.8 840.2,217.1 825.3,220.9 812.6,216.7 802,206.1 790.3,188.6 769,179.5 773.3,171.6 775.4,175.9 786,174.6 790.3,168.9 796.7,169.9 788.8,167.8 787.1,149.8"/>
<polygon class="h" points="1270,310.5 1290.7,304 1291.6,309.5 1287.5,314.4 1277.7,316.1"/>
<polygon class="o" points="1277.5,282.5 1290,270 1287.5,265 1297.5,257.5 1305,253.8 1307.5,240 1310,225 1315,212.5 1320,197.5 1325,190 1330,180 1334.2,172.1 1339.7,168.4 1341.6,162.9 1347.1,159.2 1345.2,153.6 1348.9,150 1354.5,138.9 1361.8,138.9 1360.9,127.9 1363.7,113.1 1371,113.1 1374.7,105.8 1369.2,96.6 1372.9,89.2 1380.2,91 1383.9,81.8 1387.5,70 1395,65 1400,72.5 1407.5,80 1410,65 1415,67.5 1422.5,67.5 1420,55 1430,50 1440,40 1447.5,35 1455,25 1460,17.5 1465,17.5 1463.8,46.2 1470,30 1475,23.8 1478.8,32.5 1482.5,27.5 1483.8,15 1487.5,11.2 1493.8,15 1497.5,26.2 1501.2,17.5 1517.5,18.8 1528.8,22.5 1530,27.5 1518.8,41.2 1525,45 1537.5,46.2 1540,52.5 1532.5,56.2 1526.2,62.5 1522.5,75 1522.5,62.5 1520,53.8 1507.5,52.5 1497.5,46.2 1487.5,51.2 1480,60 1480,82.5 1481.2,92.5 1477.5,100 1476.2,107.5 1467.5,102.5 1460,101.2 1455,108.8 1442.5,108.8 1432.5,100 1426.2,92.5 1420,93.8 1416.2,100 1412.5,102.5 1410,125 1385,122.5 1386.2,140 1370,142.5 1363.8,165 1366.2,177.5 1357.5,200 1356.2,207.5 1343.8,215 1345,242.5 1340,252.5 1335,270 1340,275 1340,290 1327.5,292.5 1315,302.5 1312.5,300.5 1312.5,308 1310,320.5 1310,343 1313.8,358 1315,375.5 1320,383 1323.8,390.5 1317.5,405.5 1322.5,418 1320,433 1310,443 1308.8,458 1307.5,468 1305,478 1302.5,478 1295,473 1292.5,460.5 1290,453 1285,458 1285,468 1280,473 1272.5,478 1265,485.5 1257.5,493 1250,500.5 1240,506.8 1228.8,511 1217.5,509.2 1210,503 1202.5,495.5 1195,488 1190,483 1191.2,475.5 1197.5,465.5 1193.8,458 1190,463 1186.2,458 1190,450.5 1186.2,443 1188.8,435.5 1190,428 1183.8,420.5 1187.5,403 1185,395.5 1188.8,383 1187.5,373 1190,363 1197.5,358 1198.8,351.8 1205,350.5 1210,345.5 1215,340.5 1222.5,335.5 1230,330.5 1237.5,328 1246.2,325.5 1246.2,318 1252.5,315.5 1251.2,308 1255,300.5 1262.5,305.5 1270,303 1273.8,298 1280,283"/>
<polygon class="o" points="1315.8,153.6 1321.3,144.4 1323.1,145.4 1317.6,153.6"/>
<polygon class="o" points="1325,142.6 1332.4,137.1 1343.4,133.4 1350.8,129.7 1358.1,126 1360.9,128.8 1354.5,135.2 1343.4,138.9 1332.4,141.7"/>
<polygon class="o" points="1335.1,122.3 1340.6,113.1 1347.1,115 1348.9,124.2 1343.4,128.8 1337,127.9"/>
<polygon class="o" points="1350.8,124.2 1353.5,103.9 1356.3,102.1 1357.2,113.1 1360,120.5 1356.3,127.9"/>
<polygon class="o" points="1391.3,65.2 1396.8,56 1402.3,57.9 1400.5,65.2 1395,67.1"/>
<polygon class="o" points="1422.6,43.1 1433.6,33.9 1437.3,35.8 1431.8,44.1 1426.3,45"/>
<polygon class="o" points="1416.2,100 1430,110 1447.5,120 1457.5,127.5 1462.5,135 1467.5,150 1475,162.5 1477.5,175 1476.2,187.5 1486.2,207.5 1480,208.8 1470,211.2 1462.5,212.5 1460,225 1455,230 1452.5,242.5 1450,252.5 1455,262.5 1452.5,272.5 1447.5,287.5 1440,292.5 1430,300.5 1427.5,303 1417.5,310.5 1415,320.5 1410,333 1405,343 1405,353 1402.5,363 1400,375.5 1402.5,388 1407.5,408 1417.5,410.5 1422.5,413 1430,415.5 1430,423 1440,430.5 1443.8,438 1440,448 1440,455.5 1432.5,463 1426.2,468 1420,473 1412.5,478 1407.5,483 1408.8,493 1406.2,500.5 1407.5,508 1405,520.5 1403.8,538 1402.5,555.5 1400,565.5 1395,573 1385,575.5 1375,575.5 1370,580.5 1365,590.5 1360,598 1352.5,605.5 1342.5,605.5 1337.5,605.5 1332.5,600.5 1330,590.5 1335,583 1330,573 1330,565.5 1327.5,558 1320,548 1315,533 1312.5,523 1310,510.5 1305,503 1302.5,490.5 1300,483 1302.5,478 1305,478 1307.5,468 1308.8,458 1310,443 1320,433 1322.5,418 1317.5,405.5 1323.8,390.5 1320,383 1315,375.5 1313.8,358 1310,343 1310,320.5 1312.5,308 1312.5,300.5 1315,302.5 1327.5,292.5 1340,290 1340,275 1335,270 1340,252.5 1345,242.5 1343.8,215 1356.2,207.5 1357.5,200 1366.2,177.5 1363.8,165 1370,142.5 1386.2,140 1385,122.5 1410,125 1412.5,102.5"/>
<polygon class="o" points="1435,520.5 1445,508 1452.5,503 1455,500.5 1450,518 1445,528 1440,535.5 1438.8,541.8 1437.5,533 1435,528"/>
<polygon class="o" points="1405,570.5 1407.5,555.5 1411.2,540.5 1415,530.5 1412.5,548 1408.8,565.5"/>
<polygon class="o" points="1416.2,100 1420,93.8 1426.2,92.5 1432.5,100 1442.5,108.8 1455,108.8 1460,101.2 1467.5,102.5 1476.2,107.5 1477.5,100 1481.2,92.5 1480,82.5 1480,60 1487.5,51.2 1497.5,46.2 1507.5,52.5 1520,53.8 1522.5,62.5 1521.2,75 1525,100 1540,112.5 1550,122.5 1551.2,130 1547.5,147.5 1560,165 1575,187.5 1572.5,192.5 1577.5,217.5 1590,232.5 1598.8,247.5 1596.2,257.5 1615,270 1628.8,277.5 1627.5,300 1620,320 1615,335 1610,353 1610,358 1605,371.8 1595,378 1590.5,380 1575.8,385.5 1568.4,387.4 1561,394.7 1540.8,404 1526,414 1512.2,422.4 1500.3,417.8 1497.5,413 1492.5,408 1485,403 1480,395.5 1477.5,383 1476.2,363 1472.5,353 1470,340.5 1465,330.5 1461.2,320 1465,312.5 1467.5,302.5 1475,295 1480,282.5 1487.5,275 1492.5,265 1497.5,250 1503.8,237.5 1510,235 1507.5,220 1502.5,212.5 1487.5,207.5 1476.2,187.5 1477.5,175 1475,162.5 1467.5,150 1462.5,135 1457.5,127.5 1447.5,120 1430,110"/>
<polygon class="o" points="1450,418 1453.8,413 1458.8,413 1461.2,418 1460,423 1455,423"/>
<polygon class="o" points="1527.5,445.5 1535,433 1540,430.5 1550,428 1562.5,425.5 1575,423 1590,421.8 1602.5,419.2 1610,418 1605,433 1602.5,443 1607.5,458 1612.5,473 1615,488 1605,490.5 1592.5,490.5 1585,485.5 1575,480.5 1562.5,483 1555,485.5 1550,483 1547.5,473 1540,468 1535,463 1530,458"/>
<polygon class="o" points="1502.5,475.5 1510,470.5 1520,468 1528.8,465.5 1525,473 1515,480.5 1510,485.5 1508.8,495.5 1507.5,488"/>
<polygon class="o" points="1507.5,455.5 1512.5,453 1520,455.5 1516.2,463 1510,464.2"/>
<polygon class="o" points="1555,485.5 1562.5,483 1575,480.5 1585,485.5 1592.5,490.5 1605,490.5 1615,488 1625,490.5 1627.5,508 1637.5,520.5 1641.2,530.5 1637.5,540.5 1630,548 1610,555.5 1600,553 1585,548 1575,540.5 1570,543 1555,543 1540,548 1522.5,548 1510,553 1502.5,560.5 1497.5,548 1497.5,533 1500,515.5 1505,508 1512.5,503 1525,503 1532.5,513 1540,520.5 1547.5,523 1555,515.5 1557.5,503"/>
<polygon class="o" points="1502.5,560.5 1510,553 1522.5,548 1540,548 1555,543 1570,543 1575,540.5 1585,548 1600,553 1610,555.5 1616.2,560.5 1620,573 1615,578 1610,588 1607.5,603 1605,608 1610,615.5 1595,623 1585,628 1572.5,630.5 1565,625.5 1560,618 1545,615.5 1542.5,603 1530,600.5 1515,598 1512.5,593 1505,583 1502.5,570.5"/>
<polygon class="o" points="1242.5,555.5 1245,548 1252.5,543 1262.5,538 1275,530.5 1285,525.5 1285,538 1282.5,548 1280,558 1277.5,563 1270,563 1262.5,560.5 1260,555.5 1255,553 1250,558 1245,558"/>
<polygon class="o" points="1240,560.5 1245,560.5 1250,558 1255,555.5 1260,555.5 1262.5,560.5 1270,563 1277.5,563 1282.5,565.5 1290,565.5 1292.5,570.5 1285,575.5 1282.5,585.5 1277.5,593 1270,595.5 1267.5,598 1270,608 1267.5,615.5 1270,623 1265,625.5 1255,628 1247.5,625.5 1245,618 1240,613 1238.8,603 1237.5,593 1240,583 1238.8,570.5"/>
<polygon class="o" points="1272.5,605.5 1280,601.8 1287.5,603 1290,608 1291.2,615.5 1287.5,620.5 1277.5,620.5 1273.8,613"/>
<polygon class="o" points="1300,593 1307.5,588 1315,585.5 1322.5,583 1327.5,588 1330,595.5 1325,603 1322.5,608 1325,615.5 1320,620.5 1312.5,625.5 1305,628 1300,623 1305,615.5 1300,610.5 1297.5,600.5"/>
<polygon class="o" points="1373.8,610.5 1380,608 1383.8,614.2 1380,618 1375,615.5"/>
<polygon class="o" points="923.8,570 913.8,567.5 905,568 893.8,569.2 892.5,573 887.5,579.2 886.2,583 882.5,592.5 871.2,595 863.8,589.2 853.8,589.2 851.2,596.8 848.8,596.8 851.2,601.8 852.5,605.5 847.5,613 845,618 847.5,625.5 857.5,630.5 866.2,635.5 857.5,638 850,643 845,653 832.5,660.5 827.5,661.8 830,668 825,673 830,678 828.8,680.5 837.5,688 843.8,690.5 857.5,689.2 870,685.5 887.5,683 895,681.8 900,679.2 912.5,681.8 916.2,675.5 920,668 925,660.5 926.2,650.5 925,643 928.8,635.5 927.5,625.5 930,616.8 922.5,615.5 920,603 915,600.5 910,606.8 905,605.5 897.5,598 896.2,593 902.5,585.5 910,581.8 917.5,575.5"/>
<polygon class="o" points="1130,743.8 1135,737.5 1142.5,725 1150,715 1155,702.5 1157.5,695 1160,687.5 1162.5,685 1170,680 1180,677.5 1190,676.2 1200,675 1210,673.8 1215,680 1212.5,685 1207.5,695 1203.8,705 1210,712.5 1207.5,720 1202.5,727.5 1192.5,735 1185,742.5 1190,750 1190,760 1185,772.5 1180,770 1177.5,765 1172.5,757.5 1165,753.8 1160,747.5 1155,745 1150,746.2 1142.5,747.5 1135,746.2"/>
<polygon class="o" points="1167.5,678 1172.5,675.5 1171.2,680.5"/>
<polygon class="o" points="1106.2,755 1115,750.5 1125,748 1135,746.2 1142.5,747.5 1150,746.2 1155,745 1160,747.5 1165,753.8 1172.5,757.5 1177.5,765 1180,770 1185,772.5 1190,782.5 1187.5,792.5 1185,795 1180,797.5 1175,802.5 1177.5,815 1167.5,817.5 1155,805 1150,795 1142.5,800 1137.5,795 1130,785 1125,780 1120,771.2 1107.5,765"/>
<polygon class="o" points="1177.5,800 1182.5,795 1190,800 1192.5,810 1187.5,817.5 1180,818.8 1176.2,812.5"/>
<polygon class="o" points="1250,623.8 1250,635 1247.5,645 1250,650 1252.5,657.5 1247.5,662.5 1240,670 1235,675 1230,670 1217.5,667.5 1213.8,670 1215,680 1212.5,685 1207.5,695 1203.8,705 1210,712.5 1207.5,720 1202.5,727.5 1192.5,735 1185,742.5 1190,750 1190,760 1185,772.5 1190,782.5 1187.5,792.5 1185,795 1190,800 1192.5,810 1195,817.5 1195,827.5 1202.5,830 1212.5,835 1217.5,835 1232.5,840 1225,850 1220,860 1217.5,875 1216.2,885 1215,895 1225,890 1235,890 1242.5,885 1255,885 1265,892.5 1275,897.5 1280,900 1290,895 1300,897.5 1310,892.5 1320,890 1330,887.5 1340,887.5 1350,887.5 1347.5,880 1345,870 1350,862.5 1360,855 1367.5,845 1372.5,850 1362.5,842.5 1350,832.5 1340,822.5 1335,812.5 1330,802.5 1325,792.5 1335,787.5 1345,785 1355,780 1365,775 1375,770 1377.5,763.8 1385,765 1388.8,755 1386.2,740 1382.5,730 1380,720 1378.8,707.5 1372.5,700 1370,690 1371.2,675 1367.5,660 1367.5,660 1360,655 1352.5,647.5 1350,637.5 1345,632.5 1340,640 1330,645 1320,650 1305,655 1300,665 1292.5,667.5 1292.5,657.5 1297.5,650 1295,645 1285,645 1280,640 1277.5,630 1277.5,623.8 1265,622.5"/>
<polygon class="o" points="1367.5,660 1372.5,655 1382.5,651.2 1400,645 1412.5,637.5 1420,632.5 1430,627.5 1440,622.5 1450,617.5 1457.5,630 1472.5,633.8 1480,627.5 1490,626.2 1507.5,626.2 1525,625 1545,621.2 1550,620 1562.5,625 1565,632.5 1570,642.5 1575,652.5 1580,665 1581.2,675 1575,682.5 1570,690 1572.5,695 1580,700 1582.5,715 1590,727.5 1597.5,740 1598.8,750 1596.2,757.5 1590,765 1585,777.5 1577.5,790 1575,797.5 1580,810 1572.5,808.8 1560,805 1545,803.8 1530,806.2 1520,810 1515,815 1507.5,813.8 1500,805 1492.5,805 1485,807.5 1480,800 1475,795 1465,792.5 1455,787.5 1450,783.8 1437.5,780 1435,790 1425,787.5 1422.5,777.5 1410,775 1400,770 1387.5,765 1385,765 1388.8,755 1386.2,740 1382.5,730 1380,720 1378.8,707.5 1372.5,700 1370,690 1371.2,675"/>
<polygon class="o" points="1325,792.5 1335,787.5 1345,785 1355,780 1365,775 1375,770 1377.5,763.8 1385,765 1387.5,765 1400,770 1410,775 1422.5,777.5 1425,787.5 1435,790 1437.5,780 1450,783.8 1455,787.5 1465,792.5 1475,795 1480,800 1485,807.5 1480,810 1475,815 1470,820 1465,827.5 1460,832.5 1450,837.5 1442.5,842.5 1435,841.2 1425,840 1417.5,838.8 1407.5,837.5 1395,836.2 1392.5,845 1390,850 1380,852.5 1372.5,850 1362.5,842.5 1350,832.5 1340,822.5 1335,812.5 1330,802.5"/>
<polygon class="o" points="1485,807.5 1492.5,805 1500,805 1507.5,813.8 1515,815 1520,810 1530,806.2 1545,803.8 1560,805 1572.5,808.8 1571.2,820 1570,830 1570,840 1555,840 1540,837.5 1530,840 1517.5,847.5 1505,857.5 1492.5,865 1480,872.5 1470,872.5 1460,867.5 1450,862.5 1447.5,862.5 1445,855 1442.5,847.5 1442.5,842.5 1450,837.5 1460,832.5 1465,827.5 1470,820 1475,815 1480,810"/>
<polygon class="o" points="1263.8,892.5 1275,897.5 1280,900 1290,895 1300,897.5 1310,892.5 1320,890 1330,887.5 1340,887.5 1350,887.5 1347.5,880 1345,870 1350,862.5 1360,855 1367.5,845 1372.5,850 1380,852.5 1390,850 1392.5,845 1395,836.2 1407.5,837.5 1417.5,838.8 1425,840 1435,841.2 1442.5,842.5 1442.5,847.5 1445,855 1447.5,862.5 1445,867.5 1437.5,880 1435,882.5 1432.5,890 1430,900 1428.8,910 1430,917.5 1425,915 1415,916.2 1400,920 1392.5,925 1385,928 1375,928 1365,928 1360,926 1345,923 1335,921.2 1330,910 1322.5,910 1315,912.5 1305,915 1295,915 1287.5,915 1275,912.5 1267.5,905"/>
<polygon class="o" points="1365,928 1375,928 1385,928 1392.5,925 1400,920 1415,916.2 1425,915 1430,917.5 1432.5,925 1427.5,930 1420,935 1417.5,942.5 1415,950 1412.5,960 1405,962.5 1395,960 1385,962.5 1377.5,965 1370,962.5 1367.5,957.5 1370,952.5 1367.5,947.5 1365,942.5 1362.5,935"/>
<polygon class="o" points="1377.5,965 1385,962.5 1395,960 1405,962.5 1412.5,960 1415,950 1417.5,942.5 1420,935 1427.5,930 1432.5,925 1442.5,930 1452.5,937.5 1462.5,942.5 1475,945 1487.5,942.5 1497.5,940 1502.5,950 1507.5,960 1515,962.5 1507.5,967.5 1505,972.5 1495,972.5 1485,971.2 1475,970 1465,972.5 1455,970 1442.5,970 1430,972.5 1425,977.5 1430,985 1437.5,995 1445,1005 1455,1017.5 1465,1027.5 1472.5,1037.5 1480,1047.5 1492.5,1055 1502.5,1062.5 1505,1066.2 1497.5,1062.5 1480,1052.5 1467.5,1042.5 1457.5,1032.5 1445,1022.5 1432.5,1015 1422.5,1007.5 1415,1000 1410,995 1405,985 1400,975 1395,970 1387.5,967.5 1380,970 1377.5,980 1377.5,987.5 1375,990 1372.5,982.5 1370,975 1367.5,970 1370,965"/>
<polygon class="o" points="1387.5,975 1391.2,980 1392.5,995 1389.5,992.5"/>
<polygon class="o" points="1402.5,1010 1407.5,1012.5 1415,1022.5 1411.2,1023 1406.2,1017.5"/>
<polygon class="o" points="1395,995 1400,1002.5 1397.5,1006.2 1394.5,1000"/>
<polygon class="o" points="1437.5,1047.5 1441.2,1046.2 1442.5,1049.5 1438.8,1050"/>
<polygon class="o" points="1447.5,1042.5 1457.5,1041.2 1467.5,1045 1465,1048.8 1455,1049.5 1448.8,1046.2"/>
<polygon class="o" points="1442.5,1037.5 1447.5,1035 1450,1038.8 1445,1040"/>
<polygon class="o" points="1480,1050 1490,1055 1487.5,1057 1480,1053.8"/>
<polygon class="o" points="1437.5,880 1445,867.5 1450,862.5 1460,867.5 1470,872.5 1480,872.5 1492.5,865 1505,857.5 1517.5,847.5 1530,840 1540,837.5 1555,840 1570,840 1580,842.5 1588.8,846.2 1572.5,862.5 1565,880 1563.8,892.5 1560,905 1555,920 1545,922.5 1537.5,927.5 1525,925 1512.5,930 1502.5,937.5 1492.5,942.5 1480,945 1475,945 1462.5,942.5 1452.5,937.5 1442.5,930 1432.5,925 1430,917.5 1428.8,910 1430,900 1432.5,890 1435,882.5"/>
<polygon class="o" points="1106.2,755 1107.5,765 1120,771.2 1125,780 1130,785 1137.5,795 1142.5,800 1150,795 1155,805 1167.5,817.5 1177.5,815 1180,818.8 1187.5,817.5 1195,817.5 1195,827.5 1202.5,830 1212.5,835 1217.5,835 1232.5,840 1225,850 1220,860 1217.5,875 1216.2,885 1215,895 1202.5,892.5 1200,897.5 1192.5,910 1185,920 1180,930 1175,940 1192.5,932.5 1197.5,950 1195,955 1190,965 1192.5,975 1200,980 1195,990 1197.5,1000 1205,1010 1212.5,1017.5 1212.5,1020 1200,1030 1190,1040 1185,1047.5 1180,1050 1175,1050 1165,1050 1160,1045 1150,1040 1140,1035 1130,1035 1125,1032.5 1115,1035 1105,1037.5 1095,1040 1090,1045 1090,1055 1090,1067.5 1075,1070 1060,1067.5 1055,1062.5 1045,1057.5 1032.5,1052.5 1025,1050 1010,1047.5 1000,1042.5 992.5,1040 982.5,1037.5 972.5,1032.5 965,1022.5 970,1012.5 975,1002.5 977.5,992.5 982.5,977.5 987.5,960 990,947.5 992.5,940 990,950 997.5,942.5 990,937.5 992.5,930 995,920 992.5,915 987.5,907.5 980,900 975,892.5 972.5,882.5 967.5,872.5 970,870 962.5,867.5 950,860 940,852.5 930,847.5 925,840 927.5,832.5 922.5,830 920,822.5 930,820 947.5,817.5 960,817.5 967.5,827.5 977.5,830 987.5,828.8 997.5,827.5 1000,812.5 997.5,795 1002.5,792.5 1010,795 1011.2,805 1015,807.5 1025,808.8 1035,812.5 1045,810 1052.5,810 1042.5,805 1045,800 1055,795 1067.5,792.5 1075,790 1080,785 1080,772.5 1082.5,762.5 1092.5,757.5"/>
<polygon class="o" points="1240,1080 1245,1070 1255,1067.5 1260,1060 1261.2,1070 1262.5,1085 1260,1095 1255,1107.5 1252.5,1113.8 1245,1110 1242.5,1100 1238.8,1090"/>
<polygon class="o" points="767.5,1033.8 770,1022.5 772.5,1012.5 770,1007.5 772.5,1002.5 767.5,1000 766.2,992.5 770,986.2 782.5,983.8 795,983.8 797.5,978.8 807.5,975 817.5,977.5 822.5,985 827.5,987.5 840,988.8 857.5,990 865,995 875,1000 890,1006.2 910,1006.2 917.5,1007.5 927.5,1013.8 940,1013.8 950,1018.8 962.5,1021.2 965,1022.5 972.5,1032.5 982.5,1037.5 992.5,1040 1000,1042.5 1010,1047.5 1025,1050 1032.5,1052.5 1045,1057.5 1055,1062.5 1060,1067.5 1075,1070 1090,1067.5 1092.5,1075 1090,1087.5 1080,1095 1067.5,1102.5 1057.5,1107.5 1045,1110 1032.5,1112.5 1025,1117.5 1020,1125 1012.5,1127.5 1005,1135 997.5,1145 990,1155 985,1165 985,1175 990,1182.5 995,1192.5 987.5,1197.5 977.5,1205 970,1212.5 965,1220 962.5,1230 950,1230 940,1232.5 932.5,1237.5 925,1247.5 920,1255 915,1252.5 905,1252.5 900,1252.5 890,1250 880,1248.8 870,1246.2 855,1245 845,1247.5 835,1250 825,1255 815,1261.2 807.5,1257.5 802.5,1250 800,1242.5 795,1235 797.5,1230 790,1225 782.5,1217.5 775,1211.2 770,1210 770,1200 775,1192.5 782.5,1185 790,1180 785,1175 782.5,1165 785,1157.5 795,1147.5 790,1137.5 786.2,1130 787.5,1122.5 797.5,1120 803.8,1112.5 805,1105 810,1100 812.5,1095 812.5,1082.5 815,1075 822.5,1070 830,1067.5 835,1062.5 830,1055 827.5,1047.5 822.5,1045 817.5,1042.5 807.5,1043.8 795,1041.2 786.2,1040 787.5,1035 787.5,1028.8 775,1030"/>
<polygon class="w" points="1046.2,1060 1050,1058 1053.8,1062 1048.8,1063.8"/>
<polygon class="o" points="1060,1170 1067.5,1165 1075,1161.2 1082.5,1160 1090,1166.2 1090,1170 1085,1175 1080,1180 1075,1181.2 1072.5,1175 1065,1172.5"/>
<polygon class="o" points="1102.5,1158.8 1110,1157.5 1115,1162.5 1115,1166.2 1107.5,1162.5"/>
<polygon class="o" points="1025,1190 1032.5,1186.2 1037.5,1187.5 1035,1191.2 1028.8,1192.5"/>
<polygon class="o" points="1030,1198.8 1033.8,1198.8 1035,1201.2 1030,1201.2"/>
<polygon class="o" points="767.5,1033.8 775,1030 787.5,1028.8 787.5,1035 786.2,1040 795,1041.2 807.5,1043.8 817.5,1042.5 822.5,1045 827.5,1047.5 830,1055 835,1062.5 830,1067.5 822.5,1070 815,1075 812.5,1082.5 812.5,1095 810,1100 805,1105 803.8,1112.5 797.5,1120 787.5,1122.5 786.2,1130 790,1137.5 795,1147.5 785,1157.5 782.5,1165 785,1175 790,1180 782.5,1185 775,1192.5 770,1200 770,1210 755,1213.8 740,1207.5 725,1205 727.5,1195 735,1180 735,1165 740,1155 730,1152.5 725,1140 732.5,1120 740,1110 747.5,1100 755,1085 760,1072.5 765,1055 766.2,1040"/>
<polygon class="o" points="1212.5,1017.5 1222.5,1015 1235,1010 1247.5,1007.5 1257.5,1010 1267.5,1015 1280,1022.5 1285,1032.5 1287.5,1045 1292.5,1057.5 1300,1067.5 1310,1077.5 1320,1085 1330,1095 1340,1105 1350,1112.5 1360,1117.5 1360,1117.5 1380,1118.8 1390,1127.5 1400,1137.5 1407.5,1140 1415,1152.5 1425,1158.8 1435,1157.5 1436.2,1160 1440,1170 1445,1180 1450,1192.5 1452.5,1200 1447.5,1207.5 1442.5,1210 1440,1222.5 1440,1232.5 1443.8,1235 1452.5,1230 1457.5,1220 1465,1210 1465,1203.8 1472.5,1196.2 1480,1195 1478.8,1180 1470,1172.5 1460,1171.2 1457.5,1160 1460,1155 1465,1150 1462.5,1145 1465,1140 1472.5,1138.8 1480,1140 1490,1145 1497.5,1150 1502.5,1155 1507.5,1158.8 1512.5,1157.5 1512.5,1147.5 1500,1132.5 1490,1127.5 1475,1122.5 1462.5,1117.5 1450,1112.5 1440,1107.5 1437.5,1102.5 1443.8,1095 1442.5,1091.2 1425,1091.2 1415,1092.5 1405,1087.5 1395,1082.5 1385,1072.5 1377.5,1060 1375,1047.5 1372.5,1035 1360,1027.5 1350,1020 1340,1010 1345,1010 1337.5,1000 1335,992.5 1337.5,982.5 1335,975 1332.5,970 1340,965 1350,960 1360,957.5 1365,955 1367.5,947.5 1365,942.5 1362.5,935 1365,928 1360,926 1345,923 1335,921.2 1330,910 1322.5,910 1315,912.5 1305,915 1295,915 1287.5,915 1285,925 1280,930 1275,935 1267.5,932.5 1262.5,927.5 1257.5,932.5 1252.5,940 1250,952.5 1247.5,945 1242.5,937.5 1237.5,935 1230,937.5 1225,945 1222.5,950 1217.5,950 1205,951.2 1195,955 1190,965 1192.5,975 1200,980 1195,990 1197.5,1000 1205,1010"/>
<polygon class="o" points="1347.5,1242.5 1350,1235 1357.5,1232.5 1370,1228.8 1385,1236.2 1400,1233.8 1415,1230 1436.2,1222.5 1432.5,1230 1425,1242.5 1425,1255 1430,1265 1427.5,1272.5 1425,1280 1417.5,1278.8 1407.5,1272.5 1395,1265 1382.5,1260 1370,1256.2 1360,1252.5 1350,1247.5"/>
<polygon class="o" points="1225,1140 1230,1132 1240,1127 1250,1125 1257.5,1122.5 1262.5,1127.5 1267.5,1140 1270,1152 1267.5,1165 1267.5,1175 1265,1190 1258,1203 1245,1206 1234,1200 1231,1188 1230,1170 1228,1155"/>
<polygon class="o" points="1400,1305 1402.5,1303.8 1410,1308.8 1408.8,1311.2 1405,1310"/>
<polygon class="o" points="1358.8,1312.5 1361.2,1311.2 1363,1313.8 1360,1314.5"/>
<polygon class="o" points="1332.5,1280 1335,1279.5 1336.2,1282.5 1333.8,1283"/>
<polygon class="o" points="1588.8,846.2 1595,844.5 1605,846.2 1620,845.5 1630,842.5 1642.5,847.5 1650,840 1665,833.8 1672.5,823.8 1680,821.2 1690,827.5 1697.5,840 1710,850 1722.5,860 1727.5,870 1730,880 1732.5,892.5 1737.5,907.5 1743.8,915 1752.5,915 1765,906.2 1772.5,906.2 1776.2,912.5 1777.5,925 1770,927.5 1762.5,935 1758.8,950 1761.2,960 1761.2,971.2 1750,970 1740,966.2 1730,966.2 1717.5,966.2 1707.5,970 1697.5,977.5 1690,985 1680,992.5 1660,993.8 1650,996.2 1640,996.2 1627.5,995 1617.5,997.5 1613.8,992.5 1610,987.5 1605,985 1600,977.5 1602.5,973.8 1595,972.5 1590,977.5 1575,970 1570,965 1570,957.5 1555,950 1550,940 1540,930 1537.5,927.5 1545,922.5 1555,920 1560,905 1563.8,892.5 1565,880 1572.5,862.5 1580,855 1585,852.5"/>
<polygon class="o" points="1613.8,992.5 1617.5,997.5 1627.5,995 1640,996.2 1650,996.2 1660,993.8 1680,992.5 1690,985 1697.5,977.5 1707.5,970 1717.5,966.2 1730,966.2 1740,966.2 1750,970 1761.2,971.2 1762.5,980 1752.5,985 1750,995 1750,1005 1750,1012.5 1745,1020 1752.5,1027.5 1761.2,1036.2 1745,1037.5 1735,1040 1725,1045 1722.5,1050 1720,1055 1715,1057.5 1712.5,1070 1705,1072.5 1692.5,1076.2 1680,1075 1670,1072.5 1660,1075 1650,1080 1640,1082.5 1630,1085 1627.5,1075 1622.5,1065 1612.5,1057.5 1610,1050 1608.8,1035 1617.5,1030 1620,1022.5 1615,1015 1607.5,1007.5 1602.5,1000 1605,992.5 1610,987.5"/>
<polygon class="o" points="1565.7,1151.7 1567.8,1143.5 1578,1133.2 1579.1,1111.6 1600.6,1107.5 1610.9,1096.2 1629.4,1086 1649.9,1081.9 1670.4,1072.6 1693,1076.7 1713.6,1071.6 1715.6,1059.3 1723.8,1057.2 1727.9,1065.4 1725.9,1071.6 1721.8,1081.9 1721.8,1088 1717.7,1090.1 1691,1089.1 1674.5,1096.2 1662.2,1102.4 1656.1,1106.5 1660.2,1114.7 1674.5,1121.9 1664.3,1118.8 1668.4,1127 1662.2,1128.7 1656.1,1122.9 1654,1128.7 1658.1,1134.2 1649.9,1133.2 1643.7,1128.1 1636.6,1120.9 1630.4,1115.7 1625.7,1116.4 1627.3,1129.1 1635.5,1137.3 1643.7,1149.6 1652,1162 1645.8,1166.1 1639.6,1166.1 1643.7,1171.2 1647.8,1174.3 1656.1,1180.4 1666.3,1188.6 1674.5,1194.8 1678.6,1203 1680.7,1212.3 1672.5,1207.1 1664.3,1201 1660.2,1199.9 1654,1202 1643.7,1201 1633.5,1196.9 1615,1197.9 1596.5,1202 1590.3,1190.7 1586.2,1182.5 1582.1,1178.4 1578,1174.3 1569.8,1166.1 1565.7,1157.8"/>
<polygon class="o" points="1596.5,1216.4 1602.7,1207.1 1615,1201 1633.5,1202 1652,1205.1 1656.1,1210.2 1662.2,1213.3 1664.3,1221.5 1660.2,1227.7 1658.1,1231.8 1656.1,1244.1 1659.1,1256.4 1652,1250.2 1643.7,1246.1 1641.7,1260.5 1631.4,1248.2 1625.3,1254.4 1619.1,1252.3 1615,1235.9 1610.9,1231.8 1604.7,1223.6"/>
<polygon class="o" points="1649.9,1171.2 1662.2,1172.2 1676.6,1182.5 1685.8,1191.7 1692,1195.8 1687.9,1198.5 1678.6,1193.8 1670.4,1190.7 1662.2,1184.5 1656.1,1180.4 1650.9,1176.3"/>
<polygon class="o" points="1572.9,1207.1 1578,1201 1584.2,1202 1586.2,1211.2 1580.1,1213.3 1573.9,1212.3"/>
<polygon class="o" points="1583.2,1219.4 1587.3,1220.5 1590.3,1226.6 1587.3,1227.7"/>
<polygon class="o" points="1547.2,1156.8 1553.4,1154.8 1558.5,1168.1 1555.4,1167.1"/>
<polygon class="o" points="1577,1188.6 1581.1,1186.6 1583.2,1194.8 1579.1,1195.8"/>
<polygon class="o" points="1676.6,1100.3 1680.7,1098.3 1683.8,1104.5 1678.6,1106.5"/>
<polygon class="o" points="1703.3,1104.5 1707.4,1103.4 1710.5,1105.5 1706.4,1106.5"/>
<polygon class="o" points="1696.1,1125 1703.3,1122.9 1706.4,1125 1702.3,1130.1 1697.1,1129.1"/>
<polygon class="o" points="1722.8,1146.6 1732,1139.4 1738.2,1139.4 1744.4,1150.7 1736.1,1151.7 1727.9,1149.6"/>
<polygon class="o" points="1726.9,1170.2 1734.1,1168.1 1738.2,1176.3 1734.1,1184.5 1731,1182.5"/>
<polygon class="o" points="1754.6,1194.8 1762.8,1192.8 1764.9,1195.8 1756.7,1196.9"/>
<polygon class="o" points="1737.2,1206.1 1745.4,1199.9 1747.4,1202 1739.2,1207.1"/>
<polygon class="o" points="1797.7,1244.1 1803.9,1235.9 1810.1,1231.8 1809,1240 1803.9,1248.2 1799.8,1252.3"/>
<polygon class="o" points="1686.9,1166.1 1691,1164 1693,1170.2 1688.9,1171.2"/>
<polygon class="o" points="1656.1,1264.6 1660.2,1265.6 1662.2,1271.8 1658.1,1271.8"/>
<polygon class="o" points="1783.4,1260.5 1785.4,1264.6 1786.4,1272.8 1783.4,1271.8 1782.3,1266.7"/>
<polygon class="o" points="1777.2,1276.9 1779.7,1274.9 1780.9,1278"/>
<polygon class="o" points="1670,1151.7 1671.7,1149.6 1674.9,1150.9 1673.5,1153.7"/>
<polygon class="o" points="1668,1158.9 1669.6,1156.8 1672.9,1158 1671.5,1160.9"/>
<polygon class="o" points="1661.8,1162 1663.4,1159.9 1666.7,1161.1 1665.3,1164"/>
<polygon class="o" points="1654.6,1162 1656.3,1159.9 1659.5,1161.1 1658.1,1164"/>
<polygon class="o" points="1644.4,1165 1646,1163 1649.3,1164.2 1647.8,1167.1"/>
<polygon class="o" points="1686.4,1167.1 1688.1,1165 1691.4,1166.3 1689.9,1169.1"/>
<polygon class="o" points="1717.2,1171.2 1718.9,1169.1 1722.2,1170.4 1720.7,1173.2"/>
<polygon class="o" points="1697.7,1202 1699.4,1199.9 1702.7,1201.2 1701.2,1204"/>
<polygon class="o" points="1709,1208.2 1710.7,1206.1 1714,1207.3 1712.5,1210.2"/>
<polygon class="o" points="1715.2,1213.3 1716.8,1211.2 1720.1,1212.5 1718.7,1215.3"/>
<polygon class="o" points="1688.5,1213.3 1690.1,1211.2 1693.4,1212.5 1692,1215.3"/>
<polygon class="o" points="1704.9,1215.3 1706.6,1213.3 1709.9,1214.5 1708.4,1217.4"/>
<polygon class="o" points="1677.2,1220.5 1678.9,1218.4 1682.1,1219.7 1680.7,1222.5"/>
<polygon class="o" points="1691.6,1219.4 1693.2,1217.4 1696.5,1218.6 1695.1,1221.5"/>
<polygon class="o" points="1695.7,1227.7 1697.3,1225.6 1700.6,1226.8 1699.2,1229.7"/>
<polygon class="o" points="1702.9,1233.8 1704.5,1231.8 1707.8,1233 1706.4,1235.9"/>
<polygon class="o" points="1715.2,1227.7 1716.8,1225.6 1720.1,1226.8 1718.7,1229.7"/>
<polygon class="o" points="1723.4,1225.6 1725.1,1223.6 1728.3,1224.8 1726.9,1227.7"/>
<polygon class="o" points="1737.8,1229.7 1739.4,1227.7 1742.7,1228.9 1741.3,1231.8"/>
<polygon class="o" points="1717.2,1240 1718.9,1237.9 1722.2,1239.2 1720.7,1242"/>
<polygon class="o" points="1721.4,1237.9 1723,1235.9 1726.3,1237.1 1724.8,1240"/>
<polygon class="o" points="1668,1243.1 1669.6,1241 1672.9,1242.2 1671.5,1245.1"/>
<polygon class="o" points="1680.3,1243.1 1681.9,1241 1685.2,1242.2 1683.8,1245.1"/>
<polygon class="o" points="1695.7,1244.1 1697.3,1242 1700.6,1243.3 1699.2,1246.1"/>
<polygon class="o" points="1710.1,1245.1 1711.7,1243.1 1715,1244.3 1713.6,1247.2"/>
<polygon class="o" points="1727.5,1250.2 1729.2,1248.2 1732.4,1249.4 1731,1252.3"/>
<polygon class="o" points="1736.8,1248.2 1738.4,1246.1 1741.7,1247.4 1740.2,1250.2"/>
<polygon class="o" points="1753.2,1237.9 1754.8,1235.9 1758.1,1237.1 1756.7,1240"/>
<polygon class="o" points="1768.6,1219.4 1770.2,1217.4 1773.5,1218.6 1772.1,1221.5"/>
<polygon class="o" points="1774.7,1222.5 1776.4,1220.5 1779.7,1221.7 1778.2,1224.6"/>
<polygon class="o" points="1767.6,1228.7 1769.2,1226.6 1772.5,1227.9 1771,1230.7"/>
<polygon class="o" points="1775.8,1231.8 1777.4,1229.7 1780.7,1230.9 1779.3,1233.8"/>
<polygon class="o" points="1781.9,1235.9 1783.6,1233.8 1786.9,1235.1 1785.4,1237.9"/>
<polygon class="o" points="1794.3,1226.6 1795.9,1224.6 1799.2,1225.8 1797.7,1228.7"/>
<polygon class="o" points="1758.3,1210.2 1760,1208.2 1763.2,1209.4 1761.8,1212.3"/>
<polygon class="o" points="1764.5,1202 1766.1,1199.9 1769.4,1201.2 1768,1204"/>
<polygon class="o" points="1694.7,1141.4 1696.3,1139.4 1699.6,1140.6 1698.2,1143.5"/>
<polygon class="o" points="1661.8,1213.3 1663.4,1211.2 1666.7,1212.5 1665.3,1215.3"/>
<polygon class="o" points="1664.9,1225.6 1666.5,1223.6 1669.8,1224.8 1668.4,1227.7"/>
<polygon class="o" points="1655.6,1231.8 1657.3,1229.7 1660.6,1230.9 1659.1,1233.8"/>
<polygon class="o" points="1680.2,1298.4 1682.2,1290.4 1686.2,1286.4 1688.2,1290.4 1698.2,1286.4 1702.2,1292.4 1720.2,1288.4 1744.3,1287.4 1748.3,1291.4 1760.3,1286.4 1758.3,1294.4 1740.3,1300.4 1720.2,1306.5 1716.2,1302.4 1700.2,1300.4 1682.2,1300.4"/>
<polygon class="o" points="1696.2,1312.5 1699.2,1311.5 1701.2,1313.5 1698.2,1314.1"/>
<polygon class="o" points="1938.7,1246.3 1942.7,1240.3 1952.7,1238.3 1954.7,1230.3 1964.7,1228.3 1974.7,1224.3 1984.8,1216.3 1996.8,1206.3 1990.8,1216.3 1982.8,1224.3 1988.8,1232.3 1980.8,1238.3 1974.7,1244.3 1968.7,1250.3 1960.7,1256.4 1952.7,1258.4 1944.7,1256.4"/>
</g>
<rect x="0" y="1364" width="2000" height="48" fill="#fff"/>
<g id="legend" fill="#000">
<text x="36" y="280.4" font-size="28" font-weight="bold" textLength="561" lengthAdjust="spacingAndGlyphs">14-day COVID-19 case notification rate</text>
<text x="36" y="314.4" font-size="28" font-weight="bold" textLength="724" lengthAdjust="spacingAndGlyphs">per 100 000 population and test positivity, EU/EEA</text>
<text x="36" y="348.4" font-size="28" font-weight="bold" textLength="196" lengthAdjust="spacingAndGlyphs">weeks 35 - 36</text>
<rect x="97.3" y="400.2" width="108" height="53.8" fill="#7b1712" stroke="#111" stroke-width="1.2"/>
<rect x="209.2" y="400.2" width="108" height="53.8" fill="#7b1712" stroke="#111" stroke-width="1.2"/>
<rect x="320.6" y="400.2" width="108" height="53.8" fill="#7b1712" stroke="#111" stroke-width="1.2"/>
<rect x="97.3" y="458.0" width="108" height="53.8" fill="#b43c19" stroke="#111" stroke-width="1.2"/>
<rect x="209.2" y="458.0" width="108" height="53.8" fill="#b43c19" stroke="#111" stroke-width="1.2"/>
<rect x="320.6" y="458.0" width="108" height="53.8" fill="#b43c19" stroke="#111" stroke-width="1.2"/>
<rect x="97.3" y="517.2" width="108" height="53.8" fill="#f0a82f" stroke="#111" stroke-width="1.2"/>
<rect x="209.2" y="517.2" width="108" height="53.8" fill="#f0a82f" stroke="#111" stroke-width="1.2"/>
<rect x="320.6" y="517.2" width="108" height="53.8" fill="#b43c19" stroke="#111" stroke-width="1.2"/>
<rect x="97.3" y="575.9" width="108" height="53.8" fill="#66b233" stroke="#111" stroke-width="1.2"/>
<rect x="209.2" y="575.9" width="108" height="53.8" fill="#f0a82f" stroke="#111" stroke-width="1.2"/>
<rect x="320.6" y="575.9" width="108" height="53.8" fill="#f0a82f" stroke="#111" stroke-width="1.2"/>
<rect x="97.3" y="634.5" width="108" height="53.8" fill="#66b233" stroke="#111" stroke-width="1.2"/>
<rect x="209.2" y="634.5" width="108" height="53.8" fill="#66b233" stroke="#111" stroke-width="1.2"/>
<rect x="320.6" y="634.5" width="108" height="53.8" fill="#f0a82f" stroke="#111" stroke-width="1.2"/>
<text transform="translate(92.5,427.2) rotate(-90)" text-anchor="middle" font-size="11">≥500</text>
<text transform="translate(92.5,485.0) rotate(-90)" text-anchor="middle" font-size="11">&gt;200-499</text>
<text transform="translate(92.5,544.2) rotate(-90)" text-anchor="middle" font-size="11">75-200</text>
<text transform="translate(92.5,602.9) rotate(-90)" text-anchor="middle" font-size="11">50-74</text>
<text transform="translate(92.5,661.5) rotate(-90)" text-anchor="middle" font-size="11">&lt;50</text>
<line x1="62.3" y1="697" x2="62.3" y2="410" stroke="#000" stroke-width="2"/>
<polygon points="56,413.6 62.3,393.5 68.6,413.6" fill="#000"/>
<line x1="85.2" y1="724.4" x2="405" y2="724.4" stroke="#000" stroke-width="2"/>
<polygon points="402.6,718.5 422.8,724.4 402.6,730.3" fill="#000"/>
<text transform="translate(49.5,546) rotate(-90)" text-anchor="middle" font-size="14" textLength="319" lengthAdjust="spacingAndGlyphs">14-day notification rate per 100 000 population</text>
<text x="141.7" y="706" font-size="14" font-weight="normal" textLength="33" lengthAdjust="spacingAndGlyphs">&lt;1%</text>
<text x="245" y="706" font-size="14" font-weight="normal" textLength="40.6" lengthAdjust="spacingAndGlyphs">1&lt;4%</text>
<text x="359.6" y="706" font-size="14" font-weight="normal" textLength="33.6" lengthAdjust="spacingAndGlyphs">≥4%</text>
<text x="218.3" y="746.5" font-size="14" font-weight="normal" textLength="90.2" lengthAdjust="spacingAndGlyphs">Positivity rate</text>
<rect x="34.5" y="783.4" width="69.6" height="34.6" fill="#b3b3b3" stroke="#222" stroke-width="1.2"/>
<text x="119.4" y="811" font-size="24" font-weight="normal" textLength="444" lengthAdjust="spacingAndGlyphs">Testing rate &lt; 300 per 100 000 population</text>
<rect x="34.5" y="831.4" width="69.6" height="34.6" fill="#808080" stroke="#222" stroke-width="1.2"/>
<text x="119.4" y="857.5" font-size="24" font-weight="normal" textLength="179.1" lengthAdjust="spacingAndGlyphs">No data available</text>
<rect x="34.5" y="879.1" width="69.6" height="34.6" fill="#e4e4e4" stroke="#222" stroke-width="1.2"/>
<text x="119.4" y="906.4" font-size="24" font-weight="normal" textLength="129.6" lengthAdjust="spacingAndGlyphs">Not included</text>
<text x="34.5" y="952" font-size="25.5" font-weight="normal" textLength="233.5" lengthAdjust="spacingAndGlyphs">Regions not visible</text>
<text x="34.5" y="986.5" font-size="25.5" font-weight="normal" textLength="292.5" lengthAdjust="spacingAndGlyphs">in the main map extent</text>
<rect x="34" y="1009" width="69" height="32.5" fill="#f0a82f" stroke="#222" stroke-width="1.2"/>
<text x="118.5" y="1034.5" font-size="24" font-weight="normal" textLength="67.5" lengthAdjust="spacingAndGlyphs">Azores</text>
<rect x="294" y="1010.5" width="69" height="32.5" fill="#f0a82f" stroke="#222" stroke-width="1.2"/>
<text x="377.4" y="1036.6" font-size="24" font-weight="normal" textLength="153" lengthAdjust="spacingAndGlyphs">Canary Islands</text>
<rect x="34" y="1054" width="69" height="32.5" fill="#7b1712" stroke="#222" stroke-width="1.2"/>
<rect x="294" y="1054" width="69" height="32.5" fill="#7b1712" stroke="#222" stroke-width="1.2"/>
<text x="377.4" y="1080.4" font-size="24" font-weight="normal" textLength="78" lengthAdjust="spacingAndGlyphs">Guyane</text>
<rect x="34" y="1102" width="69" height="32.5" fill="#b43c19" stroke="#222" stroke-width="1.2"/>
<text x="118.5" y="1129" font-size="24" font-weight="normal" textLength="115" lengthAdjust="spacingAndGlyphs">La Reunion</text>
<rect x="295" y="1102" width="69" height="32.5" fill="#f0a82f" stroke="#222" stroke-width="1.2"/>
<text x="378.6" y="1127.5" font-size="24" font-weight="normal" textLength="80.4" lengthAdjust="spacingAndGlyphs">Madeira</text>
<rect x="34" y="1148" width="69" height="32.5" fill="#7b1712" stroke="#222" stroke-width="1.2"/>
<text x="118.5" y="1175" font-size="24" font-weight="normal" textLength="109.5" lengthAdjust="spacingAndGlyphs">Martinique</text>
<rect x="294" y="1148" width="69" height="32.5" fill="#f0a82f" stroke="#222" stroke-width="1.2"/>
<text x="378" y="1171.6" font-size="24" font-weight="normal" textLength="82" lengthAdjust="spacingAndGlyphs">Mayotte</text>
<rect x="34" y="1296.4" width="69" height="32.5" fill="#f0a82f" stroke="#222" stroke-width="1.2"/>
<text x="118.5" y="1324" font-size="24" font-weight="normal" textLength="55" lengthAdjust="spacingAndGlyphs">Malta</text>
<rect x="294" y="1303" width="69" height="32.5" fill="#b43c19" stroke="#222" stroke-width="1.2"/>
<text x="378.6" y="1327" font-size="24" font-weight="normal" textLength="135" lengthAdjust="spacingAndGlyphs">Liechtenstein</text>
<text x="118.5" y="1066" font-size="18.5" font-weight="normal" textLength="97.5" lengthAdjust="spacingAndGlyphs">Guadeloupe</text>
<text x="118.5" y="1088.5" font-size="18.5" font-weight="normal" textLength="136" lengthAdjust="spacingAndGlyphs">and Saint Martin</text>
<text x="34.5" y="1243.6" font-size="25.5" font-weight="normal" textLength="253" lengthAdjust="spacingAndGlyphs">Countries not visible</text>
<text x="34.5" y="1277.5" font-size="25.5" font-weight="normal" textLength="292.5" lengthAdjust="spacingAndGlyphs">in the main map extent</text>
<text x="14.4" y="1383.5" font-size="15.6" font-weight="normal" textLength="1007" lengthAdjust="spacingAndGlyphs">Administrative boundaries: © EuroGeographics © UN–FAO © Turkstat.©Kartverket©Instituto Nacional de Estatística - Statistics Portugal.</text>
<text x="14.4" y="1403.6" font-size="15.6" font-weight="normal" textLength="1163" lengthAdjust="spacingAndGlyphs">The boundaries and names shown on this map do not imply official endorsement or acceptance by the European Union. ECDC. Map produced on: 17 Sep 2021</text>
</g>
<g id="logo"><polygon fill="#a9cd7f" points="62.0,20.5 72.0,20.0 82.0,24.0 90.0,19.0 100.0,18.0 110.0,20.0 117.0,14.0 126.0,14.0 136.0,20.0 142.0,28.0 147.0,38.0 150.0,47.0 143.0,54.0 149.0,60.0 153.0,68.0 148.0,76.0 140.0,82.0 130.0,86.0 120.0,87.0 110.0,90.0 100.0,92.0 90.0,93.0 86.0,90.0 80.0,86.0 70.0,88.0 60.0,90.0 53.0,90.0 47.5,86.0 48.0,76.0 53.0,72.0 59.0,70.0 62.0,64.0 60.0,56.0 57.0,52.0 63.0,47.0 64.0,40.0 63.0,33.0 60.0,27.0"/>
<polygon fill="#fff" points="63.0,43.0 70.0,40.0 72.0,47.0 68.0,52.0 64.0,50.0"/>
<polygon fill="#fff" points="94.0,27.0 100.0,24.0 102.0,33.0 99.0,42.0 95.0,38.0"/>
<polygon fill="#fff" points="86.0,70.0 92.0,69.0 95.0,76.0 90.0,80.0"/>
<polygon fill="#fff" points="142.0,54.0 150.0,56.0 150.0,64.0 145.0,62.0"/>
<path d="M51.0,37.0 C54.2,35.2 63.5,28.6 70.0,26.0 C76.5,23.4 83.3,22.5 90.0,21.5 C96.7,20.5 103.3,20.0 110.0,20.0 C116.7,20.0 125.7,20.8 130.0,21.5 C134.3,22.2 135.0,23.6 136.0,24.0" fill="none" stroke="#1c3f7c" stroke-width="2.6" stroke-linecap="round"/>
<path d="M40.5,65.5 C43.8,63.9 51.8,58.8 60.0,56.0 C68.2,53.2 80.0,50.6 90.0,49.0 C100.0,47.4 110.8,46.8 120.0,46.5 C129.2,46.2 138.8,46.0 145.0,47.0 C151.2,48.0 155.4,51.6 157.5,52.5" fill="none" stroke="#1c3f7c" stroke-width="2.6" stroke-linecap="round"/>
<path d="M42.5,83.0 C47.1,83.5 60.4,86.2 70.0,86.0 C79.6,85.8 90.0,83.5 100.0,82.0 C110.0,80.5 120.5,78.9 130.0,77.0 C139.5,75.1 152.5,71.6 157.0,70.5" fill="none" stroke="#1c3f7c" stroke-width="2.6" stroke-linecap="round"/>
<path d="M46.0,47.0 C45.5,50.0 43.2,59.5 43.0,65.0 C42.8,70.5 43.8,75.5 45.0,80.0 C46.2,84.5 47.6,87.8 50.0,92.0 C52.4,96.2 57.9,102.8 59.5,105.0" fill="none" stroke="#1c3f7c" stroke-width="2.6" stroke-linecap="round"/>
<path d="M77.5,11.5 C75.9,13.4 70.6,18.2 68.0,23.0 C65.4,27.8 63.3,33.8 62.0,40.0 C60.7,46.2 59.8,53.3 60.0,60.0 C60.2,66.7 61.2,73.2 63.0,80.0 C64.8,86.8 69.7,97.5 71.0,101.0" fill="none" stroke="#1c3f7c" stroke-width="2.6" stroke-linecap="round"/>
<path d="M90.0,10.0 C90.3,13.3 91.2,23.3 92.0,30.0 C92.8,36.7 94.0,43.3 95.0,50.0 C96.0,56.7 97.2,63.7 98.0,70.0 C98.8,76.3 99.7,85.0 100.0,88.0" fill="none" stroke="#1c3f7c" stroke-width="2.6" stroke-linecap="round"/>
<path d="M100.0,8.5 C102.5,10.1 110.8,13.9 115.0,18.0 C119.2,22.1 122.5,27.2 125.0,33.0 C127.5,38.8 129.3,46.8 130.0,53.0 C130.7,59.2 129.5,65.0 129.0,70.0 C128.5,75.0 127.3,80.8 127.0,83.0" fill="none" stroke="#1c3f7c" stroke-width="2.6" stroke-linecap="round"/>
<path d="M126.0,15.0 C128.3,16.7 136.0,20.8 140.0,25.0 C144.0,29.2 147.8,34.2 150.0,40.0 C152.2,45.8 152.8,54.2 153.0,60.0 C153.2,65.8 152.0,70.7 151.0,75.0 C150.0,79.3 147.7,84.2 147.0,86.0" fill="none" stroke="#1c3f7c" stroke-width="2.6" stroke-linecap="round"/>
<text x="78" y="133" font-family="'Liberation Serif','DejaVu Serif',serif" font-size="76" textLength="146" lengthAdjust="spacingAndGlyphs"><tspan fill="#1c3f7c">e</tspan><tspan fill="#6ab42d">cd</tspan><tspan fill="#1c3f7c">c</tspan></text>
<ellipse cx="182.5" cy="68" rx="9.5" ry="5.5" transform="rotate(-15 182.5 68)" fill="#6ab42d"/>
<path d="M186.0,70.0 C184.7,71.3 179.7,75.0 178.0,78.0 C176.3,81.0 175.8,84.7 176.0,88.0 C176.2,91.3 178.5,96.3 179.0,98.0" fill="none" stroke="#6ab42d" stroke-width="3.2"/>
<rect x="78" y="146.2" width="36.4" height="24" fill="#1d3f9c"/>
<circle cx="104.2" cy="158.2" r="0.95" fill="#ffd400"/>
<circle cx="103.1" cy="162.2" r="0.95" fill="#ffd400"/>
<circle cx="100.2" cy="165.1" r="0.95" fill="#ffd400"/>
<circle cx="96.2" cy="166.2" r="0.95" fill="#ffd400"/>
<circle cx="92.2" cy="165.1" r="0.95" fill="#ffd400"/>
<circle cx="89.3" cy="162.2" r="0.95" fill="#ffd400"/>
<circle cx="88.2" cy="158.2" r="0.95" fill="#ffd400"/>
<circle cx="89.3" cy="154.2" r="0.95" fill="#ffd400"/>
<circle cx="92.2" cy="151.3" r="0.95" fill="#ffd400"/>
<circle cx="96.2" cy="150.2" r="0.95" fill="#ffd400"/>
<circle cx="100.2" cy="151.3" r="0.95" fill="#ffd400"/>
<circle cx="103.1" cy="154.2" r="0.95" fill="#ffd400"/>
<text x="122" y="152.6" font-size="7.8" font-family="'DejaVu Sans','Liberation Sans',sans-serif" font-weight="bold" fill="#1a2f5e" textLength="100.8" lengthAdjust="spacingAndGlyphs">EUROPEAN CENTRE FOR</text>
<text x="122" y="161.4" font-size="7.8" font-family="'DejaVu Sans','Liberation Sans',sans-serif" font-weight="bold" fill="#1a2f5e" textLength="88.4" lengthAdjust="spacingAndGlyphs">DISEASE PREVENTION</text>
<text x="122" y="170.2" font-size="7.8" font-family="'DejaVu Sans','Liberation Sans',sans-serif" font-weight="bold" fill="#1a2f5e" textLength="64.4" lengthAdjust="spacingAndGlyphs">AND CONTROL</text></g>
</svg>
</body></html>
